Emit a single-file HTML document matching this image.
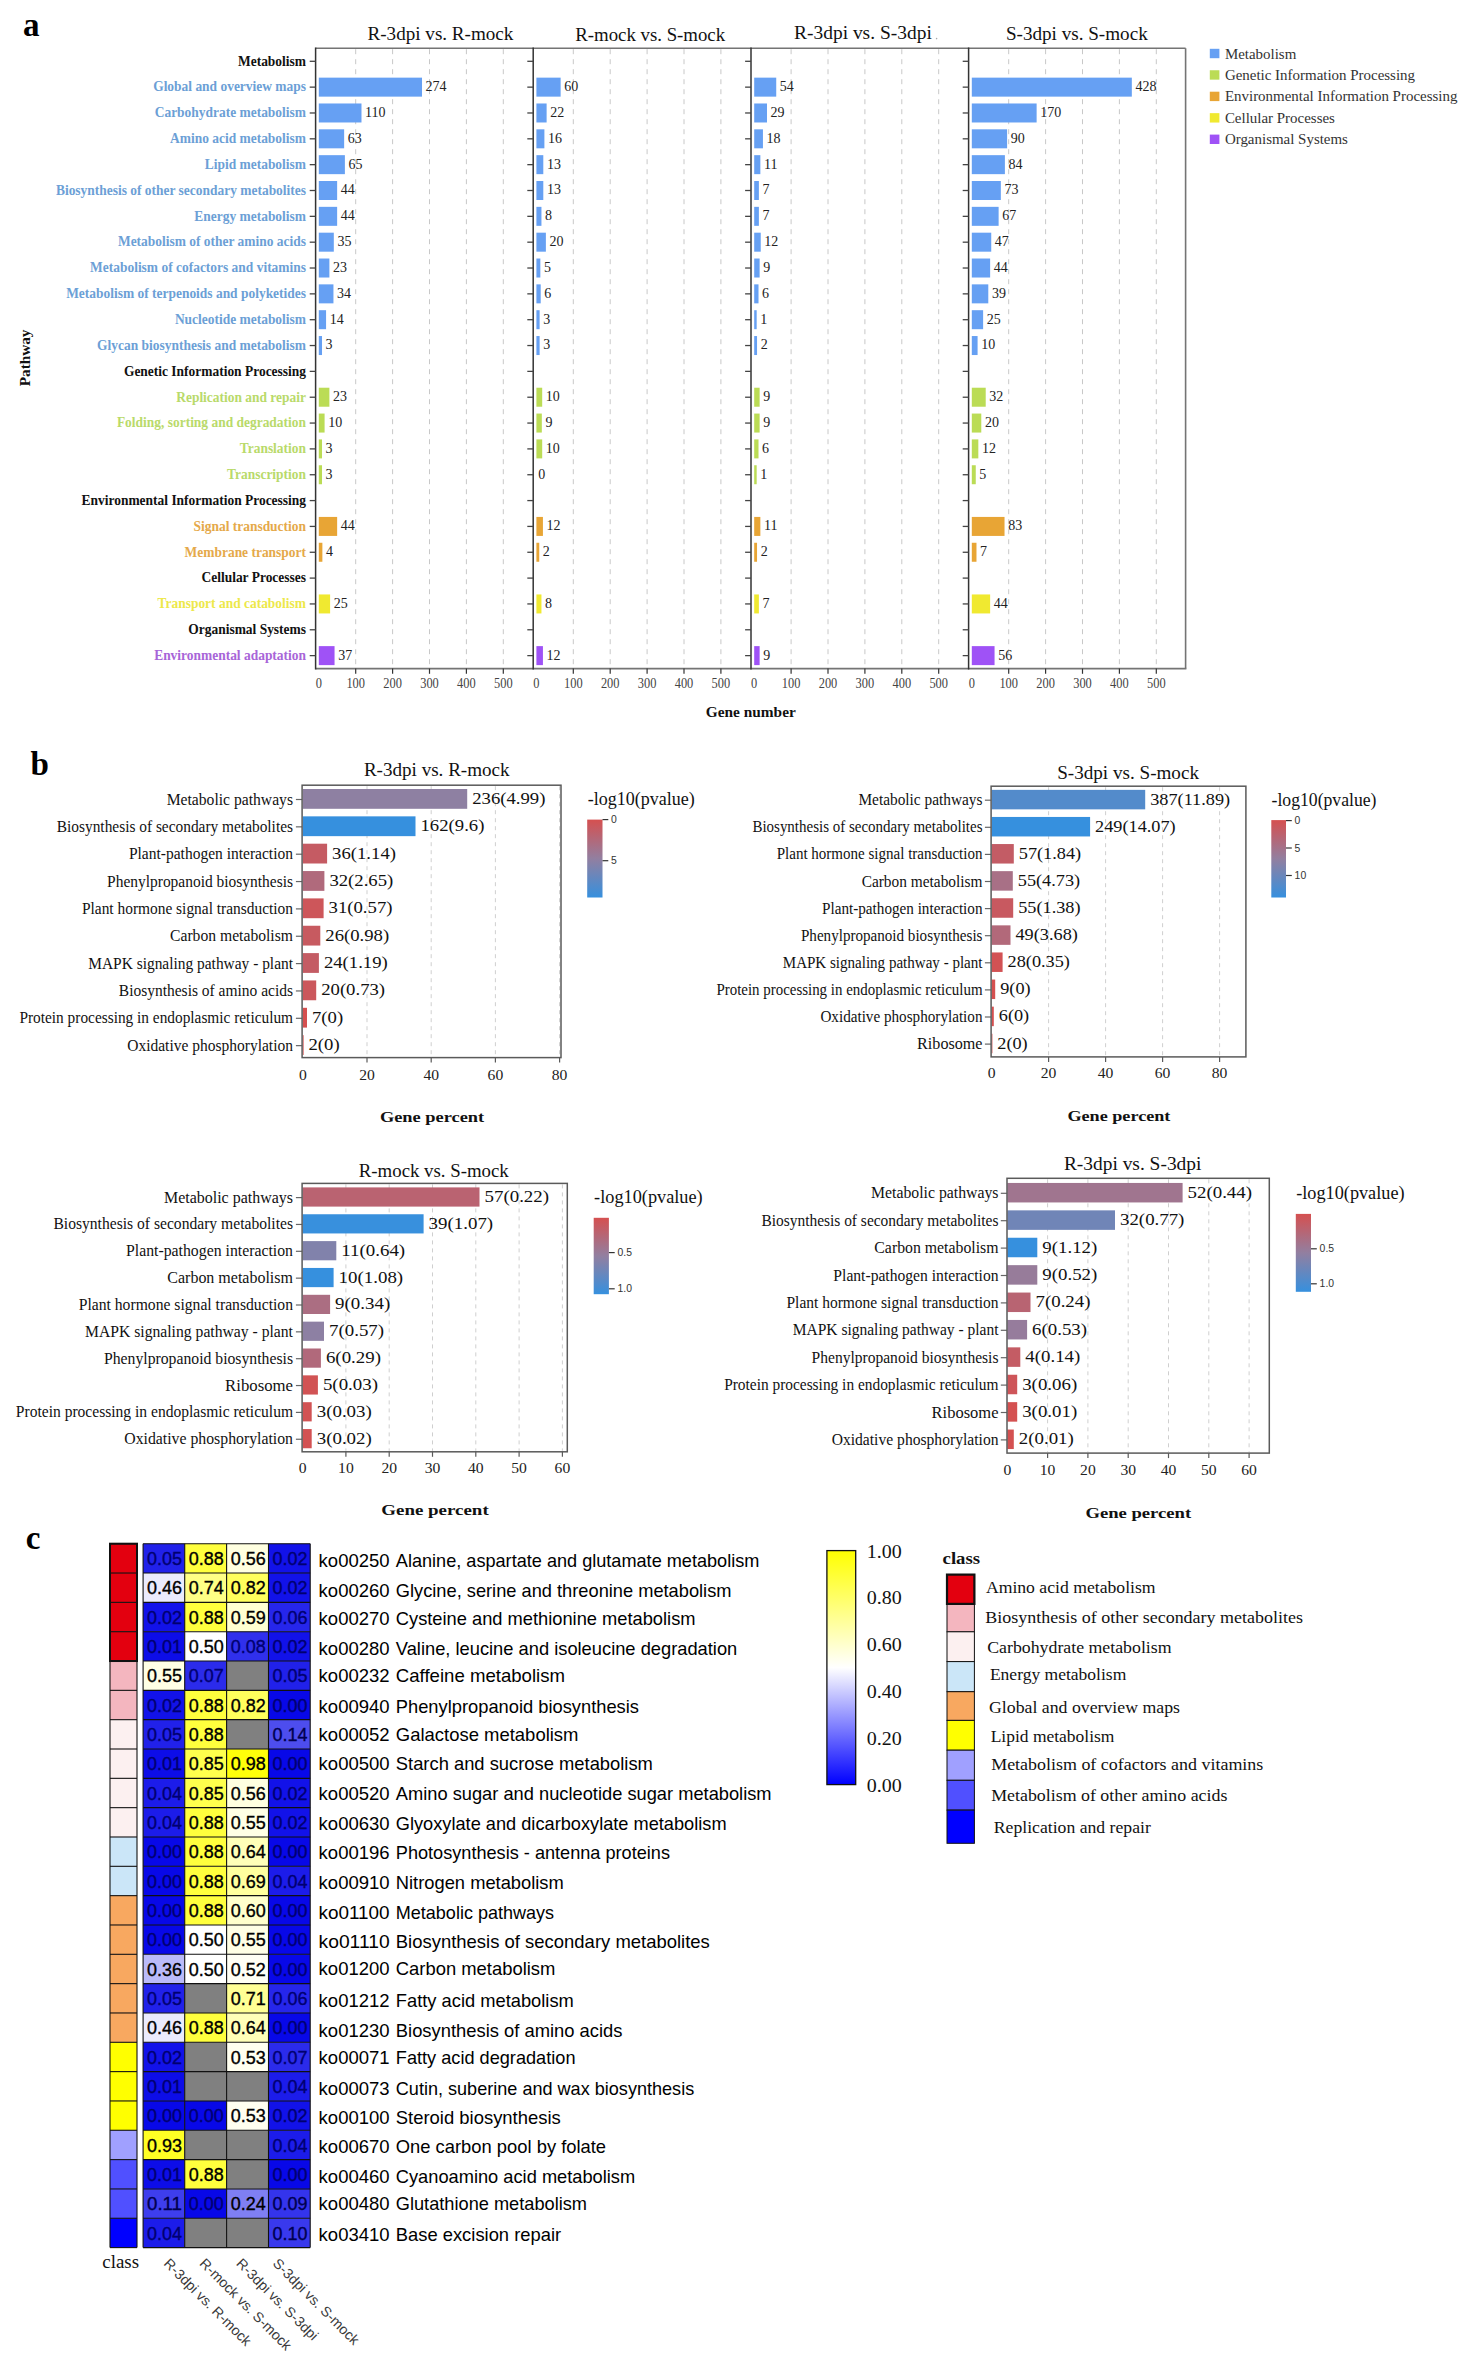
<!DOCTYPE html>
<html><head><meta charset="utf-8"><title>Figure</title>
<style>html,body{margin:0;padding:0;background:#fff;}body{width:1466px;height:2361px;overflow:hidden;font-family:"Liberation Serif",serif;}svg{display:block;}</style>
</head><body>
<svg width="1466" height="2361" viewBox="0 0 1466 2361">
<defs>
<linearGradient id="gp" x1="0" y1="0" x2="0" y2="1"><stop offset="0" stop-color="#d55050"/><stop offset="0.5" stop-color="#927fa0"/><stop offset="1" stop-color="#3690de"/></linearGradient>
<linearGradient id="gc" x1="0" y1="0" x2="0" y2="1"><stop offset="0" stop-color="#ffff00"/><stop offset="0.5" stop-color="#ffffff"/><stop offset="1" stop-color="#0000ff"/></linearGradient>
</defs>
<rect width="1466" height="2361" fill="#fff"/>
<text x="23.00" y="36.40" font-family="Liberation Serif" font-size="34.60" font-weight="bold" fill="#000" textLength="16.56" lengthAdjust="spacingAndGlyphs">a</text>
<line x1="355.70" y1="49.20" x2="355.70" y2="667.60" stroke="#c8c8c8" stroke-width="1" stroke-dasharray="5,5"/>
<line x1="392.60" y1="49.20" x2="392.60" y2="667.60" stroke="#c8c8c8" stroke-width="1" stroke-dasharray="5,5"/>
<line x1="429.50" y1="49.20" x2="429.50" y2="667.60" stroke="#c8c8c8" stroke-width="1" stroke-dasharray="5,5"/>
<line x1="466.40" y1="49.20" x2="466.40" y2="667.60" stroke="#c8c8c8" stroke-width="1" stroke-dasharray="5,5"/>
<line x1="503.30" y1="49.20" x2="503.30" y2="667.60" stroke="#c8c8c8" stroke-width="1" stroke-dasharray="5,5"/>
<line x1="573.30" y1="49.20" x2="573.30" y2="667.60" stroke="#c8c8c8" stroke-width="1" stroke-dasharray="5,5"/>
<line x1="610.20" y1="49.20" x2="610.20" y2="667.60" stroke="#c8c8c8" stroke-width="1" stroke-dasharray="5,5"/>
<line x1="647.10" y1="49.20" x2="647.10" y2="667.60" stroke="#c8c8c8" stroke-width="1" stroke-dasharray="5,5"/>
<line x1="684.00" y1="49.20" x2="684.00" y2="667.60" stroke="#c8c8c8" stroke-width="1" stroke-dasharray="5,5"/>
<line x1="720.90" y1="49.20" x2="720.90" y2="667.60" stroke="#c8c8c8" stroke-width="1" stroke-dasharray="5,5"/>
<line x1="791.10" y1="49.20" x2="791.10" y2="667.60" stroke="#c8c8c8" stroke-width="1" stroke-dasharray="5,5"/>
<line x1="828.00" y1="49.20" x2="828.00" y2="667.60" stroke="#c8c8c8" stroke-width="1" stroke-dasharray="5,5"/>
<line x1="864.90" y1="49.20" x2="864.90" y2="667.60" stroke="#c8c8c8" stroke-width="1" stroke-dasharray="5,5"/>
<line x1="901.80" y1="49.20" x2="901.80" y2="667.60" stroke="#c8c8c8" stroke-width="1" stroke-dasharray="5,5"/>
<line x1="938.70" y1="49.20" x2="938.70" y2="667.60" stroke="#c8c8c8" stroke-width="1" stroke-dasharray="5,5"/>
<line x1="1008.70" y1="49.20" x2="1008.70" y2="667.60" stroke="#c8c8c8" stroke-width="1" stroke-dasharray="5,5"/>
<line x1="1045.60" y1="49.20" x2="1045.60" y2="667.60" stroke="#c8c8c8" stroke-width="1" stroke-dasharray="5,5"/>
<line x1="1082.50" y1="49.20" x2="1082.50" y2="667.60" stroke="#c8c8c8" stroke-width="1" stroke-dasharray="5,5"/>
<line x1="1119.40" y1="49.20" x2="1119.40" y2="667.60" stroke="#c8c8c8" stroke-width="1" stroke-dasharray="5,5"/>
<line x1="1156.30" y1="49.20" x2="1156.30" y2="667.60" stroke="#c8c8c8" stroke-width="1" stroke-dasharray="5,5"/>
<text x="238.01" y="65.60" font-family="Liberation Serif" font-size="14.30" font-weight="bold" fill="#111" textLength="67.99" lengthAdjust="spacingAndGlyphs">Metabolism</text>
<rect x="318.80" y="77.64" width="103.21" height="19.00" fill="#66a0f3"/>
<text x="425.61" y="91.04" font-family="Liberation Serif" font-size="14.70" font-weight="normal" fill="#222" textLength="21.00" lengthAdjust="spacingAndGlyphs">274</text>
<rect x="536.40" y="77.64" width="24.24" height="19.00" fill="#66a0f3"/>
<text x="564.24" y="91.04" font-family="Liberation Serif" font-size="14.70" font-weight="normal" fill="#222" textLength="14.00" lengthAdjust="spacingAndGlyphs">60</text>
<rect x="754.20" y="77.64" width="22.03" height="19.00" fill="#66a0f3"/>
<text x="779.83" y="91.04" font-family="Liberation Serif" font-size="14.70" font-weight="normal" fill="#222" textLength="14.00" lengthAdjust="spacingAndGlyphs">54</text>
<rect x="971.80" y="77.64" width="160.03" height="19.00" fill="#66a0f3"/>
<text x="1135.43" y="91.04" font-family="Liberation Serif" font-size="14.70" font-weight="normal" fill="#222" textLength="21.00" lengthAdjust="spacingAndGlyphs">428</text>
<text x="153.18" y="91.44" font-family="Liberation Serif" font-size="14.30" font-weight="bold" fill="#6c9fd6" textLength="152.82" lengthAdjust="spacingAndGlyphs">Global and overview maps</text>
<rect x="318.80" y="103.48" width="42.69" height="19.00" fill="#66a0f3"/>
<text x="365.09" y="116.88" font-family="Liberation Serif" font-size="14.70" font-weight="normal" fill="#222" textLength="20.48" lengthAdjust="spacingAndGlyphs">110</text>
<rect x="536.40" y="103.48" width="10.22" height="19.00" fill="#66a0f3"/>
<text x="550.22" y="116.88" font-family="Liberation Serif" font-size="14.70" font-weight="normal" fill="#222" textLength="14.00" lengthAdjust="spacingAndGlyphs">22</text>
<rect x="754.20" y="103.48" width="12.80" height="19.00" fill="#66a0f3"/>
<text x="770.60" y="116.88" font-family="Liberation Serif" font-size="14.70" font-weight="normal" fill="#222" textLength="14.00" lengthAdjust="spacingAndGlyphs">29</text>
<rect x="971.80" y="103.48" width="64.83" height="19.00" fill="#66a0f3"/>
<text x="1040.23" y="116.88" font-family="Liberation Serif" font-size="14.70" font-weight="normal" fill="#222" textLength="21.00" lengthAdjust="spacingAndGlyphs">170</text>
<text x="154.70" y="117.28" font-family="Liberation Serif" font-size="14.30" font-weight="bold" fill="#6c9fd6" textLength="151.30" lengthAdjust="spacingAndGlyphs">Carbohydrate metabolism</text>
<rect x="318.80" y="129.32" width="25.35" height="19.00" fill="#66a0f3"/>
<text x="347.75" y="142.72" font-family="Liberation Serif" font-size="14.70" font-weight="normal" fill="#222" textLength="14.00" lengthAdjust="spacingAndGlyphs">63</text>
<rect x="536.40" y="129.32" width="8.00" height="19.00" fill="#66a0f3"/>
<text x="548.00" y="142.72" font-family="Liberation Serif" font-size="14.70" font-weight="normal" fill="#222" textLength="14.00" lengthAdjust="spacingAndGlyphs">16</text>
<rect x="754.20" y="129.32" width="8.74" height="19.00" fill="#66a0f3"/>
<text x="766.54" y="142.72" font-family="Liberation Serif" font-size="14.70" font-weight="normal" fill="#222" textLength="14.00" lengthAdjust="spacingAndGlyphs">18</text>
<rect x="971.80" y="129.32" width="35.31" height="19.00" fill="#66a0f3"/>
<text x="1010.71" y="142.72" font-family="Liberation Serif" font-size="14.70" font-weight="normal" fill="#222" textLength="14.00" lengthAdjust="spacingAndGlyphs">90</text>
<text x="170.01" y="143.12" font-family="Liberation Serif" font-size="14.30" font-weight="bold" fill="#6c9fd6" textLength="135.99" lengthAdjust="spacingAndGlyphs">Amino acid metabolism</text>
<rect x="318.80" y="155.16" width="26.09" height="19.00" fill="#66a0f3"/>
<text x="348.49" y="168.56" font-family="Liberation Serif" font-size="14.70" font-weight="normal" fill="#222" textLength="14.00" lengthAdjust="spacingAndGlyphs">65</text>
<rect x="536.40" y="155.16" width="6.90" height="19.00" fill="#66a0f3"/>
<text x="546.90" y="168.56" font-family="Liberation Serif" font-size="14.70" font-weight="normal" fill="#222" textLength="14.00" lengthAdjust="spacingAndGlyphs">13</text>
<rect x="754.20" y="155.16" width="6.16" height="19.00" fill="#66a0f3"/>
<text x="763.96" y="168.56" font-family="Liberation Serif" font-size="14.70" font-weight="normal" fill="#222" textLength="13.48" lengthAdjust="spacingAndGlyphs">11</text>
<rect x="971.80" y="155.16" width="33.10" height="19.00" fill="#66a0f3"/>
<text x="1008.50" y="168.56" font-family="Liberation Serif" font-size="14.70" font-weight="normal" fill="#222" textLength="14.00" lengthAdjust="spacingAndGlyphs">84</text>
<text x="204.74" y="168.96" font-family="Liberation Serif" font-size="14.30" font-weight="bold" fill="#6c9fd6" textLength="101.26" lengthAdjust="spacingAndGlyphs">Lipid metabolism</text>
<rect x="318.80" y="181.00" width="18.34" height="19.00" fill="#66a0f3"/>
<text x="340.74" y="194.40" font-family="Liberation Serif" font-size="14.70" font-weight="normal" fill="#222" textLength="14.00" lengthAdjust="spacingAndGlyphs">44</text>
<rect x="536.40" y="181.00" width="6.90" height="19.00" fill="#66a0f3"/>
<text x="546.90" y="194.40" font-family="Liberation Serif" font-size="14.70" font-weight="normal" fill="#222" textLength="14.00" lengthAdjust="spacingAndGlyphs">13</text>
<rect x="754.20" y="181.00" width="4.68" height="19.00" fill="#66a0f3"/>
<text x="762.48" y="194.40" font-family="Liberation Serif" font-size="14.70" font-weight="normal" fill="#222" textLength="7.00" lengthAdjust="spacingAndGlyphs">7</text>
<rect x="971.80" y="181.00" width="29.04" height="19.00" fill="#66a0f3"/>
<text x="1004.44" y="194.40" font-family="Liberation Serif" font-size="14.70" font-weight="normal" fill="#222" textLength="14.00" lengthAdjust="spacingAndGlyphs">73</text>
<text x="55.94" y="194.80" font-family="Liberation Serif" font-size="14.30" font-weight="bold" fill="#6c9fd6" textLength="250.06" lengthAdjust="spacingAndGlyphs">Biosynthesis of other secondary metabolites</text>
<rect x="318.80" y="206.84" width="18.34" height="19.00" fill="#66a0f3"/>
<text x="340.74" y="220.24" font-family="Liberation Serif" font-size="14.70" font-weight="normal" fill="#222" textLength="14.00" lengthAdjust="spacingAndGlyphs">44</text>
<rect x="536.40" y="206.84" width="5.05" height="19.00" fill="#66a0f3"/>
<text x="545.05" y="220.24" font-family="Liberation Serif" font-size="14.70" font-weight="normal" fill="#222" textLength="7.00" lengthAdjust="spacingAndGlyphs">8</text>
<rect x="754.20" y="206.84" width="4.68" height="19.00" fill="#66a0f3"/>
<text x="762.48" y="220.24" font-family="Liberation Serif" font-size="14.70" font-weight="normal" fill="#222" textLength="7.00" lengthAdjust="spacingAndGlyphs">7</text>
<rect x="971.80" y="206.84" width="26.82" height="19.00" fill="#66a0f3"/>
<text x="1002.22" y="220.24" font-family="Liberation Serif" font-size="14.70" font-weight="normal" fill="#222" textLength="14.00" lengthAdjust="spacingAndGlyphs">67</text>
<text x="194.30" y="220.64" font-family="Liberation Serif" font-size="14.30" font-weight="bold" fill="#6c9fd6" textLength="111.70" lengthAdjust="spacingAndGlyphs">Energy metabolism</text>
<rect x="318.80" y="232.68" width="15.01" height="19.00" fill="#66a0f3"/>
<text x="337.42" y="246.08" font-family="Liberation Serif" font-size="14.70" font-weight="normal" fill="#222" textLength="14.00" lengthAdjust="spacingAndGlyphs">35</text>
<rect x="536.40" y="232.68" width="9.48" height="19.00" fill="#66a0f3"/>
<text x="549.48" y="246.08" font-family="Liberation Serif" font-size="14.70" font-weight="normal" fill="#222" textLength="14.00" lengthAdjust="spacingAndGlyphs">20</text>
<rect x="754.20" y="232.68" width="6.53" height="19.00" fill="#66a0f3"/>
<text x="764.33" y="246.08" font-family="Liberation Serif" font-size="14.70" font-weight="normal" fill="#222" textLength="14.00" lengthAdjust="spacingAndGlyphs">12</text>
<rect x="971.80" y="232.68" width="19.44" height="19.00" fill="#66a0f3"/>
<text x="994.84" y="246.08" font-family="Liberation Serif" font-size="14.70" font-weight="normal" fill="#222" textLength="14.00" lengthAdjust="spacingAndGlyphs">47</text>
<text x="117.96" y="246.48" font-family="Liberation Serif" font-size="14.30" font-weight="bold" fill="#6c9fd6" textLength="188.04" lengthAdjust="spacingAndGlyphs">Metabolism of other amino acids</text>
<rect x="318.80" y="258.52" width="10.59" height="19.00" fill="#66a0f3"/>
<text x="332.99" y="271.92" font-family="Liberation Serif" font-size="14.70" font-weight="normal" fill="#222" textLength="14.00" lengthAdjust="spacingAndGlyphs">23</text>
<rect x="536.40" y="258.52" width="3.95" height="19.00" fill="#66a0f3"/>
<text x="543.95" y="271.92" font-family="Liberation Serif" font-size="14.70" font-weight="normal" fill="#222" textLength="7.00" lengthAdjust="spacingAndGlyphs">5</text>
<rect x="754.20" y="258.52" width="5.42" height="19.00" fill="#66a0f3"/>
<text x="763.22" y="271.92" font-family="Liberation Serif" font-size="14.70" font-weight="normal" fill="#222" textLength="7.00" lengthAdjust="spacingAndGlyphs">9</text>
<rect x="971.80" y="258.52" width="18.34" height="19.00" fill="#66a0f3"/>
<text x="993.74" y="271.92" font-family="Liberation Serif" font-size="14.70" font-weight="normal" fill="#222" textLength="14.00" lengthAdjust="spacingAndGlyphs">44</text>
<text x="90.08" y="272.32" font-family="Liberation Serif" font-size="14.30" font-weight="bold" fill="#6c9fd6" textLength="215.92" lengthAdjust="spacingAndGlyphs">Metabolism of cofactors and vitamins</text>
<rect x="318.80" y="284.36" width="14.65" height="19.00" fill="#66a0f3"/>
<text x="337.05" y="297.76" font-family="Liberation Serif" font-size="14.70" font-weight="normal" fill="#222" textLength="14.00" lengthAdjust="spacingAndGlyphs">34</text>
<rect x="536.40" y="284.36" width="4.31" height="19.00" fill="#66a0f3"/>
<text x="544.31" y="297.76" font-family="Liberation Serif" font-size="14.70" font-weight="normal" fill="#222" textLength="7.00" lengthAdjust="spacingAndGlyphs">6</text>
<rect x="754.20" y="284.36" width="4.31" height="19.00" fill="#66a0f3"/>
<text x="762.11" y="297.76" font-family="Liberation Serif" font-size="14.70" font-weight="normal" fill="#222" textLength="7.00" lengthAdjust="spacingAndGlyphs">6</text>
<rect x="971.80" y="284.36" width="16.49" height="19.00" fill="#66a0f3"/>
<text x="991.89" y="297.76" font-family="Liberation Serif" font-size="14.70" font-weight="normal" fill="#222" textLength="14.00" lengthAdjust="spacingAndGlyphs">39</text>
<text x="66.14" y="298.16" font-family="Liberation Serif" font-size="14.30" font-weight="bold" fill="#6c9fd6" textLength="239.86" lengthAdjust="spacingAndGlyphs">Metabolism of terpenoids and polyketides</text>
<rect x="318.80" y="310.20" width="7.27" height="19.00" fill="#66a0f3"/>
<text x="329.67" y="323.60" font-family="Liberation Serif" font-size="14.70" font-weight="normal" fill="#222" textLength="14.00" lengthAdjust="spacingAndGlyphs">14</text>
<rect x="536.40" y="310.20" width="3.21" height="19.00" fill="#66a0f3"/>
<text x="543.21" y="323.60" font-family="Liberation Serif" font-size="14.70" font-weight="normal" fill="#222" textLength="7.00" lengthAdjust="spacingAndGlyphs">3</text>
<rect x="754.20" y="310.20" width="2.47" height="19.00" fill="#66a0f3"/>
<text x="760.27" y="323.60" font-family="Liberation Serif" font-size="14.70" font-weight="normal" fill="#222" textLength="7.00" lengthAdjust="spacingAndGlyphs">1</text>
<rect x="971.80" y="310.20" width="11.32" height="19.00" fill="#66a0f3"/>
<text x="986.73" y="323.60" font-family="Liberation Serif" font-size="14.70" font-weight="normal" fill="#222" textLength="14.00" lengthAdjust="spacingAndGlyphs">25</text>
<text x="174.88" y="324.00" font-family="Liberation Serif" font-size="14.30" font-weight="bold" fill="#6c9fd6" textLength="131.12" lengthAdjust="spacingAndGlyphs">Nucleotide metabolism</text>
<rect x="318.80" y="336.04" width="3.21" height="19.00" fill="#66a0f3"/>
<text x="325.61" y="349.44" font-family="Liberation Serif" font-size="14.70" font-weight="normal" fill="#222" textLength="7.00" lengthAdjust="spacingAndGlyphs">3</text>
<rect x="536.40" y="336.04" width="3.21" height="19.00" fill="#66a0f3"/>
<text x="543.21" y="349.44" font-family="Liberation Serif" font-size="14.70" font-weight="normal" fill="#222" textLength="7.00" lengthAdjust="spacingAndGlyphs">3</text>
<rect x="754.20" y="336.04" width="2.84" height="19.00" fill="#66a0f3"/>
<text x="760.64" y="349.44" font-family="Liberation Serif" font-size="14.70" font-weight="normal" fill="#222" textLength="7.00" lengthAdjust="spacingAndGlyphs">2</text>
<rect x="971.80" y="336.04" width="5.79" height="19.00" fill="#66a0f3"/>
<text x="981.19" y="349.44" font-family="Liberation Serif" font-size="14.70" font-weight="normal" fill="#222" textLength="14.00" lengthAdjust="spacingAndGlyphs">10</text>
<text x="97.12" y="349.84" font-family="Liberation Serif" font-size="14.30" font-weight="bold" fill="#6c9fd6" textLength="208.88" lengthAdjust="spacingAndGlyphs">Glycan biosynthesis and metabolism</text>
<text x="123.95" y="375.68" font-family="Liberation Serif" font-size="14.30" font-weight="bold" fill="#111" textLength="182.05" lengthAdjust="spacingAndGlyphs">Genetic Information Processing</text>
<rect x="318.80" y="387.72" width="10.59" height="19.00" fill="#bbdc55"/>
<text x="332.99" y="401.12" font-family="Liberation Serif" font-size="14.70" font-weight="normal" fill="#222" textLength="14.00" lengthAdjust="spacingAndGlyphs">23</text>
<rect x="536.40" y="387.72" width="5.79" height="19.00" fill="#bbdc55"/>
<text x="545.79" y="401.12" font-family="Liberation Serif" font-size="14.70" font-weight="normal" fill="#222" textLength="14.00" lengthAdjust="spacingAndGlyphs">10</text>
<rect x="754.20" y="387.72" width="5.42" height="19.00" fill="#bbdc55"/>
<text x="763.22" y="401.12" font-family="Liberation Serif" font-size="14.70" font-weight="normal" fill="#222" textLength="7.00" lengthAdjust="spacingAndGlyphs">9</text>
<rect x="971.80" y="387.72" width="13.91" height="19.00" fill="#bbdc55"/>
<text x="989.31" y="401.12" font-family="Liberation Serif" font-size="14.70" font-weight="normal" fill="#222" textLength="14.00" lengthAdjust="spacingAndGlyphs">32</text>
<text x="176.23" y="401.52" font-family="Liberation Serif" font-size="14.30" font-weight="bold" fill="#b9da6a" textLength="129.77" lengthAdjust="spacingAndGlyphs">Replication and repair</text>
<rect x="318.80" y="413.56" width="5.79" height="19.00" fill="#bbdc55"/>
<text x="328.19" y="426.96" font-family="Liberation Serif" font-size="14.70" font-weight="normal" fill="#222" textLength="14.00" lengthAdjust="spacingAndGlyphs">10</text>
<rect x="536.40" y="413.56" width="5.42" height="19.00" fill="#bbdc55"/>
<text x="545.42" y="426.96" font-family="Liberation Serif" font-size="14.70" font-weight="normal" fill="#222" textLength="7.00" lengthAdjust="spacingAndGlyphs">9</text>
<rect x="754.20" y="413.56" width="5.42" height="19.00" fill="#bbdc55"/>
<text x="763.22" y="426.96" font-family="Liberation Serif" font-size="14.70" font-weight="normal" fill="#222" textLength="7.00" lengthAdjust="spacingAndGlyphs">9</text>
<rect x="971.80" y="413.56" width="9.48" height="19.00" fill="#bbdc55"/>
<text x="984.88" y="426.96" font-family="Liberation Serif" font-size="14.70" font-weight="normal" fill="#222" textLength="14.00" lengthAdjust="spacingAndGlyphs">20</text>
<text x="116.92" y="427.36" font-family="Liberation Serif" font-size="14.30" font-weight="bold" fill="#b9da6a" textLength="189.08" lengthAdjust="spacingAndGlyphs">Folding, sorting and degradation</text>
<rect x="318.80" y="439.40" width="3.21" height="19.00" fill="#bbdc55"/>
<text x="325.61" y="452.80" font-family="Liberation Serif" font-size="14.70" font-weight="normal" fill="#222" textLength="7.00" lengthAdjust="spacingAndGlyphs">3</text>
<rect x="536.40" y="439.40" width="5.79" height="19.00" fill="#bbdc55"/>
<text x="545.79" y="452.80" font-family="Liberation Serif" font-size="14.70" font-weight="normal" fill="#222" textLength="14.00" lengthAdjust="spacingAndGlyphs">10</text>
<rect x="754.20" y="439.40" width="4.31" height="19.00" fill="#bbdc55"/>
<text x="762.11" y="452.80" font-family="Liberation Serif" font-size="14.70" font-weight="normal" fill="#222" textLength="7.00" lengthAdjust="spacingAndGlyphs">6</text>
<rect x="971.80" y="439.40" width="6.53" height="19.00" fill="#bbdc55"/>
<text x="981.93" y="452.80" font-family="Liberation Serif" font-size="14.70" font-weight="normal" fill="#222" textLength="14.00" lengthAdjust="spacingAndGlyphs">12</text>
<text x="239.74" y="453.20" font-family="Liberation Serif" font-size="14.30" font-weight="bold" fill="#b9da6a" textLength="66.26" lengthAdjust="spacingAndGlyphs">Translation</text>
<rect x="318.80" y="465.24" width="3.21" height="19.00" fill="#bbdc55"/>
<text x="325.61" y="478.64" font-family="Liberation Serif" font-size="14.70" font-weight="normal" fill="#222" textLength="7.00" lengthAdjust="spacingAndGlyphs">3</text>
<text x="538.20" y="478.64" font-family="Liberation Serif" font-size="14.70" font-weight="normal" fill="#222" textLength="7.00" lengthAdjust="spacingAndGlyphs">0</text>
<rect x="754.20" y="465.24" width="2.47" height="19.00" fill="#bbdc55"/>
<text x="760.27" y="478.64" font-family="Liberation Serif" font-size="14.70" font-weight="normal" fill="#222" textLength="7.00" lengthAdjust="spacingAndGlyphs">1</text>
<rect x="971.80" y="465.24" width="3.95" height="19.00" fill="#bbdc55"/>
<text x="979.35" y="478.64" font-family="Liberation Serif" font-size="14.70" font-weight="normal" fill="#222" textLength="7.00" lengthAdjust="spacingAndGlyphs">5</text>
<text x="227.04" y="479.04" font-family="Liberation Serif" font-size="14.30" font-weight="bold" fill="#b9da6a" textLength="78.96" lengthAdjust="spacingAndGlyphs">Transcription</text>
<text x="81.58" y="504.88" font-family="Liberation Serif" font-size="14.30" font-weight="bold" fill="#111" textLength="224.42" lengthAdjust="spacingAndGlyphs">Environmental Information Processing</text>
<rect x="318.80" y="516.92" width="18.34" height="19.00" fill="#e8a535"/>
<text x="340.74" y="530.32" font-family="Liberation Serif" font-size="14.70" font-weight="normal" fill="#222" textLength="14.00" lengthAdjust="spacingAndGlyphs">44</text>
<rect x="536.40" y="516.92" width="6.53" height="19.00" fill="#e8a535"/>
<text x="546.53" y="530.32" font-family="Liberation Serif" font-size="14.70" font-weight="normal" fill="#222" textLength="14.00" lengthAdjust="spacingAndGlyphs">12</text>
<rect x="754.20" y="516.92" width="6.16" height="19.00" fill="#e8a535"/>
<text x="763.96" y="530.32" font-family="Liberation Serif" font-size="14.70" font-weight="normal" fill="#222" textLength="13.48" lengthAdjust="spacingAndGlyphs">11</text>
<rect x="971.80" y="516.92" width="32.73" height="19.00" fill="#e8a535"/>
<text x="1008.13" y="530.32" font-family="Liberation Serif" font-size="14.70" font-weight="normal" fill="#222" textLength="14.00" lengthAdjust="spacingAndGlyphs">83</text>
<text x="193.52" y="530.72" font-family="Liberation Serif" font-size="14.30" font-weight="bold" fill="#e5a94a" textLength="112.48" lengthAdjust="spacingAndGlyphs">Signal transduction</text>
<rect x="318.80" y="542.76" width="3.58" height="19.00" fill="#e8a535"/>
<text x="325.98" y="556.16" font-family="Liberation Serif" font-size="14.70" font-weight="normal" fill="#222" textLength="7.00" lengthAdjust="spacingAndGlyphs">4</text>
<rect x="536.40" y="542.76" width="2.84" height="19.00" fill="#e8a535"/>
<text x="542.84" y="556.16" font-family="Liberation Serif" font-size="14.70" font-weight="normal" fill="#222" textLength="7.00" lengthAdjust="spacingAndGlyphs">2</text>
<rect x="754.20" y="542.76" width="2.84" height="19.00" fill="#e8a535"/>
<text x="760.64" y="556.16" font-family="Liberation Serif" font-size="14.70" font-weight="normal" fill="#222" textLength="7.00" lengthAdjust="spacingAndGlyphs">2</text>
<rect x="971.80" y="542.76" width="4.68" height="19.00" fill="#e8a535"/>
<text x="980.08" y="556.16" font-family="Liberation Serif" font-size="14.70" font-weight="normal" fill="#222" textLength="7.00" lengthAdjust="spacingAndGlyphs">7</text>
<text x="184.60" y="556.56" font-family="Liberation Serif" font-size="14.30" font-weight="bold" fill="#e5a94a" textLength="121.40" lengthAdjust="spacingAndGlyphs">Membrane transport</text>
<text x="201.53" y="582.40" font-family="Liberation Serif" font-size="14.30" font-weight="bold" fill="#111" textLength="104.47" lengthAdjust="spacingAndGlyphs">Cellular Processes</text>
<rect x="318.80" y="594.44" width="11.32" height="19.00" fill="#f0e930"/>
<text x="333.73" y="607.84" font-family="Liberation Serif" font-size="14.70" font-weight="normal" fill="#222" textLength="14.00" lengthAdjust="spacingAndGlyphs">25</text>
<rect x="536.40" y="594.44" width="5.05" height="19.00" fill="#f0e930"/>
<text x="545.05" y="607.84" font-family="Liberation Serif" font-size="14.70" font-weight="normal" fill="#222" textLength="7.00" lengthAdjust="spacingAndGlyphs">8</text>
<rect x="754.20" y="594.44" width="4.68" height="19.00" fill="#f0e930"/>
<text x="762.48" y="607.84" font-family="Liberation Serif" font-size="14.70" font-weight="normal" fill="#222" textLength="7.00" lengthAdjust="spacingAndGlyphs">7</text>
<rect x="971.80" y="594.44" width="18.34" height="19.00" fill="#f0e930"/>
<text x="993.74" y="607.84" font-family="Liberation Serif" font-size="14.70" font-weight="normal" fill="#222" textLength="14.00" lengthAdjust="spacingAndGlyphs">44</text>
<text x="157.54" y="608.24" font-family="Liberation Serif" font-size="14.30" font-weight="bold" fill="#ede84a" textLength="148.46" lengthAdjust="spacingAndGlyphs">Transport and catabolism</text>
<text x="188.31" y="634.08" font-family="Liberation Serif" font-size="14.30" font-weight="bold" fill="#111" textLength="117.69" lengthAdjust="spacingAndGlyphs">Organismal Systems</text>
<rect x="318.80" y="646.12" width="15.75" height="19.00" fill="#9f52f6"/>
<text x="338.15" y="659.52" font-family="Liberation Serif" font-size="14.70" font-weight="normal" fill="#222" textLength="14.00" lengthAdjust="spacingAndGlyphs">37</text>
<rect x="536.40" y="646.12" width="6.53" height="19.00" fill="#9f52f6"/>
<text x="546.53" y="659.52" font-family="Liberation Serif" font-size="14.70" font-weight="normal" fill="#222" textLength="14.00" lengthAdjust="spacingAndGlyphs">12</text>
<rect x="754.20" y="646.12" width="5.42" height="19.00" fill="#9f52f6"/>
<text x="763.22" y="659.52" font-family="Liberation Serif" font-size="14.70" font-weight="normal" fill="#222" textLength="7.00" lengthAdjust="spacingAndGlyphs">9</text>
<rect x="971.80" y="646.12" width="22.76" height="19.00" fill="#9f52f6"/>
<text x="998.16" y="659.52" font-family="Liberation Serif" font-size="14.70" font-weight="normal" fill="#222" textLength="14.00" lengthAdjust="spacingAndGlyphs">56</text>
<text x="154.17" y="659.92" font-family="Liberation Serif" font-size="14.30" font-weight="bold" fill="#a865d8" textLength="151.83" lengthAdjust="spacingAndGlyphs">Environmental adaptation</text>
<line x1="315.60" y1="48.20" x2="1185.60" y2="48.20" stroke="#747474" stroke-width="1.6"/>
<line x1="315.60" y1="668.60" x2="1186.40" y2="668.60" stroke="#747474" stroke-width="1.6"/>
<line x1="1185.60" y1="48.20" x2="1185.60" y2="668.60" stroke="#747474" stroke-width="1.6"/>
<line x1="315.60" y1="47.40" x2="315.60" y2="669.40" stroke="#333" stroke-width="1.5"/>
<line x1="309.70" y1="61.30" x2="315.60" y2="61.30" stroke="#444" stroke-width="1.3"/>
<line x1="309.70" y1="87.14" x2="315.60" y2="87.14" stroke="#444" stroke-width="1.3"/>
<line x1="309.70" y1="112.98" x2="315.60" y2="112.98" stroke="#444" stroke-width="1.3"/>
<line x1="309.70" y1="138.82" x2="315.60" y2="138.82" stroke="#444" stroke-width="1.3"/>
<line x1="309.70" y1="164.66" x2="315.60" y2="164.66" stroke="#444" stroke-width="1.3"/>
<line x1="309.70" y1="190.50" x2="315.60" y2="190.50" stroke="#444" stroke-width="1.3"/>
<line x1="309.70" y1="216.34" x2="315.60" y2="216.34" stroke="#444" stroke-width="1.3"/>
<line x1="309.70" y1="242.18" x2="315.60" y2="242.18" stroke="#444" stroke-width="1.3"/>
<line x1="309.70" y1="268.02" x2="315.60" y2="268.02" stroke="#444" stroke-width="1.3"/>
<line x1="309.70" y1="293.86" x2="315.60" y2="293.86" stroke="#444" stroke-width="1.3"/>
<line x1="309.70" y1="319.70" x2="315.60" y2="319.70" stroke="#444" stroke-width="1.3"/>
<line x1="309.70" y1="345.54" x2="315.60" y2="345.54" stroke="#444" stroke-width="1.3"/>
<line x1="309.70" y1="371.38" x2="315.60" y2="371.38" stroke="#444" stroke-width="1.3"/>
<line x1="309.70" y1="397.22" x2="315.60" y2="397.22" stroke="#444" stroke-width="1.3"/>
<line x1="309.70" y1="423.06" x2="315.60" y2="423.06" stroke="#444" stroke-width="1.3"/>
<line x1="309.70" y1="448.90" x2="315.60" y2="448.90" stroke="#444" stroke-width="1.3"/>
<line x1="309.70" y1="474.74" x2="315.60" y2="474.74" stroke="#444" stroke-width="1.3"/>
<line x1="309.70" y1="500.58" x2="315.60" y2="500.58" stroke="#444" stroke-width="1.3"/>
<line x1="309.70" y1="526.42" x2="315.60" y2="526.42" stroke="#444" stroke-width="1.3"/>
<line x1="309.70" y1="552.26" x2="315.60" y2="552.26" stroke="#444" stroke-width="1.3"/>
<line x1="309.70" y1="578.10" x2="315.60" y2="578.10" stroke="#444" stroke-width="1.3"/>
<line x1="309.70" y1="603.94" x2="315.60" y2="603.94" stroke="#444" stroke-width="1.3"/>
<line x1="309.70" y1="629.78" x2="315.60" y2="629.78" stroke="#444" stroke-width="1.3"/>
<line x1="309.70" y1="655.62" x2="315.60" y2="655.62" stroke="#444" stroke-width="1.3"/>
<text x="315.70" y="688.20" font-family="Liberation Serif" font-size="14.00" font-weight="normal" fill="#444" textLength="6.20" lengthAdjust="spacingAndGlyphs">0</text>
<line x1="355.70" y1="668.60" x2="355.70" y2="673.80" stroke="#333" stroke-width="1.2"/>
<text x="346.40" y="688.20" font-family="Liberation Serif" font-size="14.00" font-weight="normal" fill="#444" textLength="18.60" lengthAdjust="spacingAndGlyphs">100</text>
<line x1="392.60" y1="668.60" x2="392.60" y2="673.80" stroke="#333" stroke-width="1.2"/>
<text x="383.30" y="688.20" font-family="Liberation Serif" font-size="14.00" font-weight="normal" fill="#444" textLength="18.60" lengthAdjust="spacingAndGlyphs">200</text>
<line x1="429.50" y1="668.60" x2="429.50" y2="673.80" stroke="#333" stroke-width="1.2"/>
<text x="420.20" y="688.20" font-family="Liberation Serif" font-size="14.00" font-weight="normal" fill="#444" textLength="18.60" lengthAdjust="spacingAndGlyphs">300</text>
<line x1="466.40" y1="668.60" x2="466.40" y2="673.80" stroke="#333" stroke-width="1.2"/>
<text x="457.10" y="688.20" font-family="Liberation Serif" font-size="14.00" font-weight="normal" fill="#444" textLength="18.60" lengthAdjust="spacingAndGlyphs">400</text>
<line x1="503.30" y1="668.60" x2="503.30" y2="673.80" stroke="#333" stroke-width="1.2"/>
<text x="494.00" y="688.20" font-family="Liberation Serif" font-size="14.00" font-weight="normal" fill="#444" textLength="18.60" lengthAdjust="spacingAndGlyphs">500</text>
<line x1="533.20" y1="47.40" x2="533.20" y2="669.40" stroke="#333" stroke-width="1.5"/>
<line x1="527.30" y1="61.30" x2="533.20" y2="61.30" stroke="#444" stroke-width="1.3"/>
<line x1="527.30" y1="87.14" x2="533.20" y2="87.14" stroke="#444" stroke-width="1.3"/>
<line x1="527.30" y1="112.98" x2="533.20" y2="112.98" stroke="#444" stroke-width="1.3"/>
<line x1="527.30" y1="138.82" x2="533.20" y2="138.82" stroke="#444" stroke-width="1.3"/>
<line x1="527.30" y1="164.66" x2="533.20" y2="164.66" stroke="#444" stroke-width="1.3"/>
<line x1="527.30" y1="190.50" x2="533.20" y2="190.50" stroke="#444" stroke-width="1.3"/>
<line x1="527.30" y1="216.34" x2="533.20" y2="216.34" stroke="#444" stroke-width="1.3"/>
<line x1="527.30" y1="242.18" x2="533.20" y2="242.18" stroke="#444" stroke-width="1.3"/>
<line x1="527.30" y1="268.02" x2="533.20" y2="268.02" stroke="#444" stroke-width="1.3"/>
<line x1="527.30" y1="293.86" x2="533.20" y2="293.86" stroke="#444" stroke-width="1.3"/>
<line x1="527.30" y1="319.70" x2="533.20" y2="319.70" stroke="#444" stroke-width="1.3"/>
<line x1="527.30" y1="345.54" x2="533.20" y2="345.54" stroke="#444" stroke-width="1.3"/>
<line x1="527.30" y1="371.38" x2="533.20" y2="371.38" stroke="#444" stroke-width="1.3"/>
<line x1="527.30" y1="397.22" x2="533.20" y2="397.22" stroke="#444" stroke-width="1.3"/>
<line x1="527.30" y1="423.06" x2="533.20" y2="423.06" stroke="#444" stroke-width="1.3"/>
<line x1="527.30" y1="448.90" x2="533.20" y2="448.90" stroke="#444" stroke-width="1.3"/>
<line x1="527.30" y1="474.74" x2="533.20" y2="474.74" stroke="#444" stroke-width="1.3"/>
<line x1="527.30" y1="500.58" x2="533.20" y2="500.58" stroke="#444" stroke-width="1.3"/>
<line x1="527.30" y1="526.42" x2="533.20" y2="526.42" stroke="#444" stroke-width="1.3"/>
<line x1="527.30" y1="552.26" x2="533.20" y2="552.26" stroke="#444" stroke-width="1.3"/>
<line x1="527.30" y1="578.10" x2="533.20" y2="578.10" stroke="#444" stroke-width="1.3"/>
<line x1="527.30" y1="603.94" x2="533.20" y2="603.94" stroke="#444" stroke-width="1.3"/>
<line x1="527.30" y1="629.78" x2="533.20" y2="629.78" stroke="#444" stroke-width="1.3"/>
<line x1="527.30" y1="655.62" x2="533.20" y2="655.62" stroke="#444" stroke-width="1.3"/>
<text x="533.30" y="688.20" font-family="Liberation Serif" font-size="14.00" font-weight="normal" fill="#444" textLength="6.20" lengthAdjust="spacingAndGlyphs">0</text>
<line x1="573.30" y1="668.60" x2="573.30" y2="673.80" stroke="#333" stroke-width="1.2"/>
<text x="564.00" y="688.20" font-family="Liberation Serif" font-size="14.00" font-weight="normal" fill="#444" textLength="18.60" lengthAdjust="spacingAndGlyphs">100</text>
<line x1="610.20" y1="668.60" x2="610.20" y2="673.80" stroke="#333" stroke-width="1.2"/>
<text x="600.90" y="688.20" font-family="Liberation Serif" font-size="14.00" font-weight="normal" fill="#444" textLength="18.60" lengthAdjust="spacingAndGlyphs">200</text>
<line x1="647.10" y1="668.60" x2="647.10" y2="673.80" stroke="#333" stroke-width="1.2"/>
<text x="637.80" y="688.20" font-family="Liberation Serif" font-size="14.00" font-weight="normal" fill="#444" textLength="18.60" lengthAdjust="spacingAndGlyphs">300</text>
<line x1="684.00" y1="668.60" x2="684.00" y2="673.80" stroke="#333" stroke-width="1.2"/>
<text x="674.70" y="688.20" font-family="Liberation Serif" font-size="14.00" font-weight="normal" fill="#444" textLength="18.60" lengthAdjust="spacingAndGlyphs">400</text>
<line x1="720.90" y1="668.60" x2="720.90" y2="673.80" stroke="#333" stroke-width="1.2"/>
<text x="711.60" y="688.20" font-family="Liberation Serif" font-size="14.00" font-weight="normal" fill="#444" textLength="18.60" lengthAdjust="spacingAndGlyphs">500</text>
<line x1="751.00" y1="47.40" x2="751.00" y2="669.40" stroke="#333" stroke-width="1.5"/>
<line x1="745.10" y1="61.30" x2="751.00" y2="61.30" stroke="#444" stroke-width="1.3"/>
<line x1="745.10" y1="87.14" x2="751.00" y2="87.14" stroke="#444" stroke-width="1.3"/>
<line x1="745.10" y1="112.98" x2="751.00" y2="112.98" stroke="#444" stroke-width="1.3"/>
<line x1="745.10" y1="138.82" x2="751.00" y2="138.82" stroke="#444" stroke-width="1.3"/>
<line x1="745.10" y1="164.66" x2="751.00" y2="164.66" stroke="#444" stroke-width="1.3"/>
<line x1="745.10" y1="190.50" x2="751.00" y2="190.50" stroke="#444" stroke-width="1.3"/>
<line x1="745.10" y1="216.34" x2="751.00" y2="216.34" stroke="#444" stroke-width="1.3"/>
<line x1="745.10" y1="242.18" x2="751.00" y2="242.18" stroke="#444" stroke-width="1.3"/>
<line x1="745.10" y1="268.02" x2="751.00" y2="268.02" stroke="#444" stroke-width="1.3"/>
<line x1="745.10" y1="293.86" x2="751.00" y2="293.86" stroke="#444" stroke-width="1.3"/>
<line x1="745.10" y1="319.70" x2="751.00" y2="319.70" stroke="#444" stroke-width="1.3"/>
<line x1="745.10" y1="345.54" x2="751.00" y2="345.54" stroke="#444" stroke-width="1.3"/>
<line x1="745.10" y1="371.38" x2="751.00" y2="371.38" stroke="#444" stroke-width="1.3"/>
<line x1="745.10" y1="397.22" x2="751.00" y2="397.22" stroke="#444" stroke-width="1.3"/>
<line x1="745.10" y1="423.06" x2="751.00" y2="423.06" stroke="#444" stroke-width="1.3"/>
<line x1="745.10" y1="448.90" x2="751.00" y2="448.90" stroke="#444" stroke-width="1.3"/>
<line x1="745.10" y1="474.74" x2="751.00" y2="474.74" stroke="#444" stroke-width="1.3"/>
<line x1="745.10" y1="500.58" x2="751.00" y2="500.58" stroke="#444" stroke-width="1.3"/>
<line x1="745.10" y1="526.42" x2="751.00" y2="526.42" stroke="#444" stroke-width="1.3"/>
<line x1="745.10" y1="552.26" x2="751.00" y2="552.26" stroke="#444" stroke-width="1.3"/>
<line x1="745.10" y1="578.10" x2="751.00" y2="578.10" stroke="#444" stroke-width="1.3"/>
<line x1="745.10" y1="603.94" x2="751.00" y2="603.94" stroke="#444" stroke-width="1.3"/>
<line x1="745.10" y1="629.78" x2="751.00" y2="629.78" stroke="#444" stroke-width="1.3"/>
<line x1="745.10" y1="655.62" x2="751.00" y2="655.62" stroke="#444" stroke-width="1.3"/>
<text x="751.10" y="688.20" font-family="Liberation Serif" font-size="14.00" font-weight="normal" fill="#444" textLength="6.20" lengthAdjust="spacingAndGlyphs">0</text>
<line x1="791.10" y1="668.60" x2="791.10" y2="673.80" stroke="#333" stroke-width="1.2"/>
<text x="781.80" y="688.20" font-family="Liberation Serif" font-size="14.00" font-weight="normal" fill="#444" textLength="18.60" lengthAdjust="spacingAndGlyphs">100</text>
<line x1="828.00" y1="668.60" x2="828.00" y2="673.80" stroke="#333" stroke-width="1.2"/>
<text x="818.70" y="688.20" font-family="Liberation Serif" font-size="14.00" font-weight="normal" fill="#444" textLength="18.60" lengthAdjust="spacingAndGlyphs">200</text>
<line x1="864.90" y1="668.60" x2="864.90" y2="673.80" stroke="#333" stroke-width="1.2"/>
<text x="855.60" y="688.20" font-family="Liberation Serif" font-size="14.00" font-weight="normal" fill="#444" textLength="18.60" lengthAdjust="spacingAndGlyphs">300</text>
<line x1="901.80" y1="668.60" x2="901.80" y2="673.80" stroke="#333" stroke-width="1.2"/>
<text x="892.50" y="688.20" font-family="Liberation Serif" font-size="14.00" font-weight="normal" fill="#444" textLength="18.60" lengthAdjust="spacingAndGlyphs">400</text>
<line x1="938.70" y1="668.60" x2="938.70" y2="673.80" stroke="#333" stroke-width="1.2"/>
<text x="929.40" y="688.20" font-family="Liberation Serif" font-size="14.00" font-weight="normal" fill="#444" textLength="18.60" lengthAdjust="spacingAndGlyphs">500</text>
<line x1="968.60" y1="47.40" x2="968.60" y2="669.40" stroke="#333" stroke-width="1.5"/>
<line x1="962.70" y1="61.30" x2="968.60" y2="61.30" stroke="#444" stroke-width="1.3"/>
<line x1="962.70" y1="87.14" x2="968.60" y2="87.14" stroke="#444" stroke-width="1.3"/>
<line x1="962.70" y1="112.98" x2="968.60" y2="112.98" stroke="#444" stroke-width="1.3"/>
<line x1="962.70" y1="138.82" x2="968.60" y2="138.82" stroke="#444" stroke-width="1.3"/>
<line x1="962.70" y1="164.66" x2="968.60" y2="164.66" stroke="#444" stroke-width="1.3"/>
<line x1="962.70" y1="190.50" x2="968.60" y2="190.50" stroke="#444" stroke-width="1.3"/>
<line x1="962.70" y1="216.34" x2="968.60" y2="216.34" stroke="#444" stroke-width="1.3"/>
<line x1="962.70" y1="242.18" x2="968.60" y2="242.18" stroke="#444" stroke-width="1.3"/>
<line x1="962.70" y1="268.02" x2="968.60" y2="268.02" stroke="#444" stroke-width="1.3"/>
<line x1="962.70" y1="293.86" x2="968.60" y2="293.86" stroke="#444" stroke-width="1.3"/>
<line x1="962.70" y1="319.70" x2="968.60" y2="319.70" stroke="#444" stroke-width="1.3"/>
<line x1="962.70" y1="345.54" x2="968.60" y2="345.54" stroke="#444" stroke-width="1.3"/>
<line x1="962.70" y1="371.38" x2="968.60" y2="371.38" stroke="#444" stroke-width="1.3"/>
<line x1="962.70" y1="397.22" x2="968.60" y2="397.22" stroke="#444" stroke-width="1.3"/>
<line x1="962.70" y1="423.06" x2="968.60" y2="423.06" stroke="#444" stroke-width="1.3"/>
<line x1="962.70" y1="448.90" x2="968.60" y2="448.90" stroke="#444" stroke-width="1.3"/>
<line x1="962.70" y1="474.74" x2="968.60" y2="474.74" stroke="#444" stroke-width="1.3"/>
<line x1="962.70" y1="500.58" x2="968.60" y2="500.58" stroke="#444" stroke-width="1.3"/>
<line x1="962.70" y1="526.42" x2="968.60" y2="526.42" stroke="#444" stroke-width="1.3"/>
<line x1="962.70" y1="552.26" x2="968.60" y2="552.26" stroke="#444" stroke-width="1.3"/>
<line x1="962.70" y1="578.10" x2="968.60" y2="578.10" stroke="#444" stroke-width="1.3"/>
<line x1="962.70" y1="603.94" x2="968.60" y2="603.94" stroke="#444" stroke-width="1.3"/>
<line x1="962.70" y1="629.78" x2="968.60" y2="629.78" stroke="#444" stroke-width="1.3"/>
<line x1="962.70" y1="655.62" x2="968.60" y2="655.62" stroke="#444" stroke-width="1.3"/>
<text x="968.70" y="688.20" font-family="Liberation Serif" font-size="14.00" font-weight="normal" fill="#444" textLength="6.20" lengthAdjust="spacingAndGlyphs">0</text>
<line x1="1008.70" y1="668.60" x2="1008.70" y2="673.80" stroke="#333" stroke-width="1.2"/>
<text x="999.40" y="688.20" font-family="Liberation Serif" font-size="14.00" font-weight="normal" fill="#444" textLength="18.60" lengthAdjust="spacingAndGlyphs">100</text>
<line x1="1045.60" y1="668.60" x2="1045.60" y2="673.80" stroke="#333" stroke-width="1.2"/>
<text x="1036.30" y="688.20" font-family="Liberation Serif" font-size="14.00" font-weight="normal" fill="#444" textLength="18.60" lengthAdjust="spacingAndGlyphs">200</text>
<line x1="1082.50" y1="668.60" x2="1082.50" y2="673.80" stroke="#333" stroke-width="1.2"/>
<text x="1073.20" y="688.20" font-family="Liberation Serif" font-size="14.00" font-weight="normal" fill="#444" textLength="18.60" lengthAdjust="spacingAndGlyphs">300</text>
<line x1="1119.40" y1="668.60" x2="1119.40" y2="673.80" stroke="#333" stroke-width="1.2"/>
<text x="1110.10" y="688.20" font-family="Liberation Serif" font-size="14.00" font-weight="normal" fill="#444" textLength="18.60" lengthAdjust="spacingAndGlyphs">400</text>
<line x1="1156.30" y1="668.60" x2="1156.30" y2="673.80" stroke="#333" stroke-width="1.2"/>
<text x="1147.00" y="688.20" font-family="Liberation Serif" font-size="14.00" font-weight="normal" fill="#444" textLength="18.60" lengthAdjust="spacingAndGlyphs">500</text>
<text x="367.50" y="40.20" font-family="Liberation Serif" font-size="18.30" font-weight="normal" fill="#111" textLength="145.90" lengthAdjust="spacingAndGlyphs">R-3dpi vs. R-mock</text>
<text x="575.30" y="40.50" font-family="Liberation Serif" font-size="18.30" font-weight="normal" fill="#111" textLength="149.80" lengthAdjust="spacingAndGlyphs">R-mock vs. S-mock</text>
<text x="794.00" y="39.30" font-family="Liberation Serif" font-size="18.30" font-weight="normal" fill="#111" textLength="137.80" lengthAdjust="spacingAndGlyphs">R-3dpi vs. S-3dpi</text>
<circle cx="936.6" cy="38.6" r="0.8" fill="#aaa"/>
<text x="1005.90" y="40.00" font-family="Liberation Serif" font-size="18.30" font-weight="normal" fill="#111" textLength="141.80" lengthAdjust="spacingAndGlyphs">S-3dpi vs. S-mock</text>
<text x="705.80" y="717.00" font-family="Liberation Serif" font-size="15.00" font-weight="bold" fill="#111" textLength="90.00" lengthAdjust="spacingAndGlyphs">Gene number</text>
<g transform="translate(29.7,357.9) rotate(-90)">
<text x="-28.40" y="0.00" font-family="Liberation Serif" font-size="15.30" font-weight="bold" fill="#111" textLength="56.80" lengthAdjust="spacingAndGlyphs">Pathway</text>
</g>
<rect x="1209.80" y="48.80" width="9.60" height="9.40" fill="#66a0f3"/>
<text x="1224.90" y="58.50" font-family="Liberation Serif" font-size="14.80" font-weight="normal" fill="#333" textLength="71.42" lengthAdjust="spacingAndGlyphs">Metabolism</text>
<rect x="1209.80" y="70.25" width="9.60" height="9.40" fill="#bbdc55"/>
<text x="1224.90" y="79.95" font-family="Liberation Serif" font-size="14.80" font-weight="normal" fill="#333" textLength="190.15" lengthAdjust="spacingAndGlyphs">Genetic Information Processing</text>
<rect x="1209.80" y="91.70" width="9.60" height="9.40" fill="#e8a535"/>
<text x="1224.90" y="101.40" font-family="Liberation Serif" font-size="14.80" font-weight="normal" fill="#333" textLength="232.51" lengthAdjust="spacingAndGlyphs">Environmental Information Processing</text>
<rect x="1209.80" y="113.15" width="9.60" height="9.40" fill="#f0e930"/>
<text x="1224.90" y="122.85" font-family="Liberation Serif" font-size="14.80" font-weight="normal" fill="#333" textLength="110.03" lengthAdjust="spacingAndGlyphs">Cellular Processes</text>
<rect x="1209.80" y="134.60" width="9.60" height="9.40" fill="#9f52f6"/>
<text x="1224.90" y="144.30" font-family="Liberation Serif" font-size="14.80" font-weight="normal" fill="#333" textLength="123.06" lengthAdjust="spacingAndGlyphs">Organismal Systems</text>
<text x="30.60" y="774.80" font-family="Liberation Serif" font-size="34.60" font-weight="bold" fill="#000" textLength="18.41" lengthAdjust="spacingAndGlyphs">b</text>
<line x1="367.00" y1="786.20" x2="367.00" y2="1056.60" stroke="#cfcfcf" stroke-width="1" stroke-dasharray="4,4"/>
<line x1="431.20" y1="786.20" x2="431.20" y2="1056.60" stroke="#cfcfcf" stroke-width="1" stroke-dasharray="4,4"/>
<line x1="495.40" y1="786.20" x2="495.40" y2="1056.60" stroke="#cfcfcf" stroke-width="1" stroke-dasharray="4,4"/>
<line x1="559.60" y1="786.20" x2="559.60" y2="1056.60" stroke="#cfcfcf" stroke-width="1" stroke-dasharray="4,4"/>
<rect x="302.80" y="789.00" width="164.40" height="19.80" fill="#8e80a2"/>
<text x="472.20" y="803.90" font-family="Liberation Serif" font-size="16.60" font-weight="normal" fill="#111" textLength="73.23" lengthAdjust="spacingAndGlyphs">236(4.99)</text>
<text x="166.67" y="804.50" font-family="Liberation Serif" font-size="15.80" font-weight="normal" fill="#111" textLength="126.33" lengthAdjust="spacingAndGlyphs">Metabolic pathways</text>
<line x1="295.90" y1="799.50" x2="302.10" y2="799.50" stroke="#666" stroke-width="1.2"/>
<rect x="302.80" y="816.35" width="112.70" height="19.80" fill="#3690de"/>
<text x="420.50" y="831.25" font-family="Liberation Serif" font-size="16.60" font-weight="normal" fill="#111" textLength="63.88" lengthAdjust="spacingAndGlyphs">162(9.6)</text>
<text x="56.78" y="831.85" font-family="Liberation Serif" font-size="15.80" font-weight="normal" fill="#111" textLength="236.22" lengthAdjust="spacingAndGlyphs">Biosynthesis of secondary metabolites</text>
<line x1="295.90" y1="826.85" x2="302.10" y2="826.85" stroke="#666" stroke-width="1.2"/>
<rect x="302.80" y="843.70" width="24.30" height="19.80" fill="#c55b63"/>
<text x="332.10" y="858.60" font-family="Liberation Serif" font-size="16.60" font-weight="normal" fill="#111" textLength="63.88" lengthAdjust="spacingAndGlyphs">36(1.14)</text>
<text x="128.94" y="859.20" font-family="Liberation Serif" font-size="15.80" font-weight="normal" fill="#111" textLength="164.06" lengthAdjust="spacingAndGlyphs">Plant-pathogen interaction</text>
<line x1="295.90" y1="854.20" x2="302.10" y2="854.20" stroke="#666" stroke-width="1.2"/>
<rect x="302.80" y="871.05" width="21.60" height="19.80" fill="#b06a7c"/>
<text x="329.40" y="885.95" font-family="Liberation Serif" font-size="16.60" font-weight="normal" fill="#111" textLength="63.88" lengthAdjust="spacingAndGlyphs">32(2.65)</text>
<text x="107.08" y="886.55" font-family="Liberation Serif" font-size="15.80" font-weight="normal" fill="#111" textLength="185.92" lengthAdjust="spacingAndGlyphs">Phenylpropanoid biosynthesis</text>
<line x1="295.90" y1="881.55" x2="302.10" y2="881.55" stroke="#666" stroke-width="1.2"/>
<rect x="302.80" y="898.40" width="20.80" height="19.80" fill="#cd565a"/>
<text x="328.60" y="913.30" font-family="Liberation Serif" font-size="16.60" font-weight="normal" fill="#111" textLength="63.88" lengthAdjust="spacingAndGlyphs">31(0.57)</text>
<text x="81.94" y="913.90" font-family="Liberation Serif" font-size="15.80" font-weight="normal" fill="#111" textLength="211.06" lengthAdjust="spacingAndGlyphs">Plant hormone signal transduction</text>
<line x1="295.90" y1="908.90" x2="302.10" y2="908.90" stroke="#666" stroke-width="1.2"/>
<rect x="302.80" y="925.75" width="17.50" height="19.80" fill="#c75a60"/>
<text x="325.30" y="940.65" font-family="Liberation Serif" font-size="16.60" font-weight="normal" fill="#111" textLength="63.88" lengthAdjust="spacingAndGlyphs">26(0.98)</text>
<text x="170.01" y="941.25" font-family="Liberation Serif" font-size="15.80" font-weight="normal" fill="#111" textLength="122.99" lengthAdjust="spacingAndGlyphs">Carbon metabolism</text>
<line x1="295.90" y1="936.25" x2="302.10" y2="936.25" stroke="#666" stroke-width="1.2"/>
<rect x="302.80" y="953.10" width="16.10" height="19.80" fill="#c45c64"/>
<text x="323.90" y="968.00" font-family="Liberation Serif" font-size="16.60" font-weight="normal" fill="#111" textLength="63.88" lengthAdjust="spacingAndGlyphs">24(1.19)</text>
<text x="88.22" y="968.60" font-family="Liberation Serif" font-size="15.80" font-weight="normal" fill="#111" textLength="204.78" lengthAdjust="spacingAndGlyphs">MAPK signaling pathway - plant</text>
<line x1="295.90" y1="963.60" x2="302.10" y2="963.60" stroke="#666" stroke-width="1.2"/>
<rect x="302.80" y="980.45" width="13.40" height="19.80" fill="#cb575c"/>
<text x="321.20" y="995.35" font-family="Liberation Serif" font-size="16.60" font-weight="normal" fill="#111" textLength="63.88" lengthAdjust="spacingAndGlyphs">20(0.73)</text>
<text x="118.83" y="995.95" font-family="Liberation Serif" font-size="15.80" font-weight="normal" fill="#111" textLength="174.17" lengthAdjust="spacingAndGlyphs">Biosynthesis of amino acids</text>
<line x1="295.90" y1="990.95" x2="302.10" y2="990.95" stroke="#666" stroke-width="1.2"/>
<rect x="302.80" y="1007.80" width="4.20" height="19.80" fill="#d55050"/>
<text x="312.00" y="1022.70" font-family="Liberation Serif" font-size="16.60" font-weight="normal" fill="#111" textLength="31.15" lengthAdjust="spacingAndGlyphs">7(0)</text>
<text x="19.47" y="1023.30" font-family="Liberation Serif" font-size="15.80" font-weight="normal" fill="#111" textLength="273.53" lengthAdjust="spacingAndGlyphs">Protein processing in endoplasmic reticulum</text>
<line x1="295.90" y1="1018.30" x2="302.10" y2="1018.30" stroke="#666" stroke-width="1.2"/>
<rect x="302.80" y="1035.15" width="0.80" height="19.80" fill="#d55050"/>
<text x="308.50" y="1050.05" font-family="Liberation Serif" font-size="16.60" font-weight="normal" fill="#111" textLength="31.15" lengthAdjust="spacingAndGlyphs">2(0)</text>
<text x="127.24" y="1050.65" font-family="Liberation Serif" font-size="15.80" font-weight="normal" fill="#111" textLength="165.76" lengthAdjust="spacingAndGlyphs">Oxidative phosphorylation</text>
<line x1="295.90" y1="1045.65" x2="302.10" y2="1045.65" stroke="#666" stroke-width="1.2"/>
<rect x="302.10" y="785.20" width="258.90" height="272.40" fill="none" stroke="#5a5a5a" stroke-width="1.5"/>
<text x="298.90" y="1079.70" font-family="Liberation Serif" font-size="15.20" font-weight="normal" fill="#222" textLength="7.80" lengthAdjust="spacingAndGlyphs">0</text>
<line x1="367.00" y1="1057.60" x2="367.00" y2="1062.60" stroke="#5a5a5a" stroke-width="1.2"/>
<text x="359.20" y="1079.70" font-family="Liberation Serif" font-size="15.20" font-weight="normal" fill="#222" textLength="15.60" lengthAdjust="spacingAndGlyphs">20</text>
<line x1="431.20" y1="1057.60" x2="431.20" y2="1062.60" stroke="#5a5a5a" stroke-width="1.2"/>
<text x="423.40" y="1079.70" font-family="Liberation Serif" font-size="15.20" font-weight="normal" fill="#222" textLength="15.60" lengthAdjust="spacingAndGlyphs">40</text>
<line x1="495.40" y1="1057.60" x2="495.40" y2="1062.60" stroke="#5a5a5a" stroke-width="1.2"/>
<text x="487.60" y="1079.70" font-family="Liberation Serif" font-size="15.20" font-weight="normal" fill="#222" textLength="15.60" lengthAdjust="spacingAndGlyphs">60</text>
<line x1="559.60" y1="1057.60" x2="559.60" y2="1062.60" stroke="#5a5a5a" stroke-width="1.2"/>
<text x="551.80" y="1079.70" font-family="Liberation Serif" font-size="15.20" font-weight="normal" fill="#222" textLength="15.60" lengthAdjust="spacingAndGlyphs">80</text>
<text x="363.90" y="776.20" font-family="Liberation Serif" font-size="18.20" font-weight="normal" fill="#111" textLength="145.70" lengthAdjust="spacingAndGlyphs">R-3dpi vs. R-mock</text>
<text x="379.90" y="1122.00" font-family="Liberation Serif" font-size="15.60" font-weight="bold" fill="#111" textLength="104.30" lengthAdjust="spacingAndGlyphs">Gene percent</text>
<text x="587.70" y="805.00" font-family="Liberation Serif" font-size="17.80" font-weight="normal" fill="#111" textLength="107.00" lengthAdjust="spacingAndGlyphs">-log10(pvalue)</text>
<rect x="587.20" y="819.60" width="15.30" height="77.90" fill="url(#gp)"/>
<line x1="602.50" y1="819.60" x2="608.30" y2="819.60" stroke="#333" stroke-width="1.2"/>
<text x="611.10" y="823.20" font-family="Liberation Sans" font-size="10.40" font-weight="normal" fill="#333" textLength="5.78" lengthAdjust="spacingAndGlyphs">0</text>
<line x1="602.50" y1="860.70" x2="608.30" y2="860.70" stroke="#333" stroke-width="1.2"/>
<text x="611.10" y="864.30" font-family="Liberation Sans" font-size="10.40" font-weight="normal" fill="#333" textLength="5.78" lengthAdjust="spacingAndGlyphs">5</text>
<line x1="1048.60" y1="787.20" x2="1048.60" y2="1055.90" stroke="#cfcfcf" stroke-width="1" stroke-dasharray="4,4"/>
<line x1="1105.60" y1="787.20" x2="1105.60" y2="1055.90" stroke="#cfcfcf" stroke-width="1" stroke-dasharray="4,4"/>
<line x1="1162.60" y1="787.20" x2="1162.60" y2="1055.90" stroke="#cfcfcf" stroke-width="1" stroke-dasharray="4,4"/>
<line x1="1219.60" y1="787.20" x2="1219.60" y2="1055.90" stroke="#cfcfcf" stroke-width="1" stroke-dasharray="4,4"/>
<rect x="991.60" y="789.85" width="153.60" height="19.50" fill="#538bcb"/>
<text x="1150.20" y="804.60" font-family="Liberation Serif" font-size="16.60" font-weight="normal" fill="#111" textLength="79.92" lengthAdjust="spacingAndGlyphs">387(11.89)</text>
<text x="858.45" y="805.20" font-family="Liberation Serif" font-size="15.80" font-weight="normal" fill="#111" textLength="124.05" lengthAdjust="spacingAndGlyphs">Metabolic pathways</text>
<line x1="984.90" y1="800.20" x2="991.10" y2="800.20" stroke="#666" stroke-width="1.2"/>
<rect x="991.60" y="816.95" width="98.50" height="19.50" fill="#3690de"/>
<text x="1095.10" y="831.70" font-family="Liberation Serif" font-size="16.60" font-weight="normal" fill="#111" textLength="80.59" lengthAdjust="spacingAndGlyphs">249(14.07)</text>
<text x="752.42" y="832.30" font-family="Liberation Serif" font-size="15.80" font-weight="normal" fill="#111" textLength="230.08" lengthAdjust="spacingAndGlyphs">Biosynthesis of secondary metabolites</text>
<line x1="984.90" y1="827.30" x2="991.10" y2="827.30" stroke="#666" stroke-width="1.2"/>
<rect x="991.60" y="844.05" width="22.20" height="19.50" fill="#c35c65"/>
<text x="1018.80" y="858.80" font-family="Liberation Serif" font-size="16.60" font-weight="normal" fill="#111" textLength="62.34" lengthAdjust="spacingAndGlyphs">57(1.84)</text>
<text x="776.70" y="859.40" font-family="Liberation Serif" font-size="15.80" font-weight="normal" fill="#111" textLength="205.80" lengthAdjust="spacingAndGlyphs">Plant hormone signal transduction</text>
<line x1="984.90" y1="854.40" x2="991.10" y2="854.40" stroke="#666" stroke-width="1.2"/>
<rect x="991.60" y="871.15" width="21.20" height="19.50" fill="#a87086"/>
<text x="1017.80" y="885.90" font-family="Liberation Serif" font-size="16.60" font-weight="normal" fill="#111" textLength="62.34" lengthAdjust="spacingAndGlyphs">55(4.73)</text>
<text x="861.68" y="886.50" font-family="Liberation Serif" font-size="15.80" font-weight="normal" fill="#111" textLength="120.82" lengthAdjust="spacingAndGlyphs">Carbon metabolism</text>
<line x1="984.90" y1="881.50" x2="991.10" y2="881.50" stroke="#666" stroke-width="1.2"/>
<rect x="991.60" y="898.25" width="21.60" height="19.50" fill="#c85960"/>
<text x="1018.20" y="913.00" font-family="Liberation Serif" font-size="16.60" font-weight="normal" fill="#111" textLength="62.34" lengthAdjust="spacingAndGlyphs">55(1.38)</text>
<text x="822.05" y="913.60" font-family="Liberation Serif" font-size="15.80" font-weight="normal" fill="#111" textLength="160.45" lengthAdjust="spacingAndGlyphs">Plant-pathogen interaction</text>
<line x1="984.90" y1="908.60" x2="991.10" y2="908.60" stroke="#666" stroke-width="1.2"/>
<rect x="991.60" y="925.35" width="18.90" height="19.50" fill="#b2697a"/>
<text x="1015.50" y="940.10" font-family="Liberation Serif" font-size="16.60" font-weight="normal" fill="#111" textLength="62.34" lengthAdjust="spacingAndGlyphs">49(3.68)</text>
<text x="800.96" y="940.70" font-family="Liberation Serif" font-size="15.80" font-weight="normal" fill="#111" textLength="181.54" lengthAdjust="spacingAndGlyphs">Phenylpropanoid biosynthesis</text>
<line x1="984.90" y1="935.70" x2="991.10" y2="935.70" stroke="#666" stroke-width="1.2"/>
<rect x="991.60" y="952.45" width="11.00" height="19.50" fill="#d25254"/>
<text x="1007.60" y="967.20" font-family="Liberation Serif" font-size="16.60" font-weight="normal" fill="#111" textLength="62.34" lengthAdjust="spacingAndGlyphs">28(0.35)</text>
<text x="782.76" y="967.80" font-family="Liberation Serif" font-size="15.80" font-weight="normal" fill="#111" textLength="199.74" lengthAdjust="spacingAndGlyphs">MAPK signaling pathway - plant</text>
<line x1="984.90" y1="962.80" x2="991.10" y2="962.80" stroke="#666" stroke-width="1.2"/>
<rect x="991.60" y="979.55" width="3.60" height="19.50" fill="#d55050"/>
<text x="1000.20" y="994.30" font-family="Liberation Serif" font-size="16.60" font-weight="normal" fill="#111" textLength="30.40" lengthAdjust="spacingAndGlyphs">9(0)</text>
<text x="716.42" y="994.90" font-family="Liberation Serif" font-size="15.80" font-weight="normal" fill="#111" textLength="266.08" lengthAdjust="spacingAndGlyphs">Protein processing in endoplasmic reticulum</text>
<line x1="984.90" y1="989.90" x2="991.10" y2="989.90" stroke="#666" stroke-width="1.2"/>
<rect x="991.60" y="1006.65" width="2.20" height="19.50" fill="#d55050"/>
<text x="998.80" y="1021.40" font-family="Liberation Serif" font-size="16.60" font-weight="normal" fill="#111" textLength="30.40" lengthAdjust="spacingAndGlyphs">6(0)</text>
<text x="820.40" y="1022.00" font-family="Liberation Serif" font-size="15.80" font-weight="normal" fill="#111" textLength="162.10" lengthAdjust="spacingAndGlyphs">Oxidative phosphorylation</text>
<line x1="984.90" y1="1017.00" x2="991.10" y2="1017.00" stroke="#666" stroke-width="1.2"/>
<rect x="991.60" y="1033.75" width="0.80" height="19.50" fill="#d55050"/>
<text x="997.30" y="1048.50" font-family="Liberation Serif" font-size="16.60" font-weight="normal" fill="#111" textLength="30.40" lengthAdjust="spacingAndGlyphs">2(0)</text>
<text x="917.11" y="1049.10" font-family="Liberation Serif" font-size="15.80" font-weight="normal" fill="#111" textLength="65.39" lengthAdjust="spacingAndGlyphs">Ribosome</text>
<line x1="984.90" y1="1044.10" x2="991.10" y2="1044.10" stroke="#666" stroke-width="1.2"/>
<rect x="991.10" y="786.20" width="254.80" height="270.70" fill="none" stroke="#5a5a5a" stroke-width="1.5"/>
<text x="987.70" y="1078.00" font-family="Liberation Serif" font-size="15.20" font-weight="normal" fill="#222" textLength="7.80" lengthAdjust="spacingAndGlyphs">0</text>
<line x1="1048.60" y1="1056.90" x2="1048.60" y2="1061.90" stroke="#5a5a5a" stroke-width="1.2"/>
<text x="1040.80" y="1078.00" font-family="Liberation Serif" font-size="15.20" font-weight="normal" fill="#222" textLength="15.60" lengthAdjust="spacingAndGlyphs">20</text>
<line x1="1105.60" y1="1056.90" x2="1105.60" y2="1061.90" stroke="#5a5a5a" stroke-width="1.2"/>
<text x="1097.80" y="1078.00" font-family="Liberation Serif" font-size="15.20" font-weight="normal" fill="#222" textLength="15.60" lengthAdjust="spacingAndGlyphs">40</text>
<line x1="1162.60" y1="1056.90" x2="1162.60" y2="1061.90" stroke="#5a5a5a" stroke-width="1.2"/>
<text x="1154.80" y="1078.00" font-family="Liberation Serif" font-size="15.20" font-weight="normal" fill="#222" textLength="15.60" lengthAdjust="spacingAndGlyphs">60</text>
<line x1="1219.60" y1="1056.90" x2="1219.60" y2="1061.90" stroke="#5a5a5a" stroke-width="1.2"/>
<text x="1211.80" y="1078.00" font-family="Liberation Serif" font-size="15.20" font-weight="normal" fill="#222" textLength="15.60" lengthAdjust="spacingAndGlyphs">80</text>
<text x="1057.20" y="779.10" font-family="Liberation Serif" font-size="18.20" font-weight="normal" fill="#111" textLength="141.80" lengthAdjust="spacingAndGlyphs">S-3dpi vs. S-mock</text>
<text x="1067.40" y="1120.60" font-family="Liberation Serif" font-size="15.60" font-weight="bold" fill="#111" textLength="103.00" lengthAdjust="spacingAndGlyphs">Gene percent</text>
<text x="1271.50" y="805.60" font-family="Liberation Serif" font-size="17.80" font-weight="normal" fill="#111" textLength="105.00" lengthAdjust="spacingAndGlyphs">-log10(pvalue)</text>
<rect x="1271.30" y="820.10" width="14.70" height="77.40" fill="url(#gp)"/>
<line x1="1286.00" y1="820.60" x2="1291.80" y2="820.60" stroke="#333" stroke-width="1.2"/>
<text x="1294.60" y="824.20" font-family="Liberation Sans" font-size="10.40" font-weight="normal" fill="#333" textLength="5.78" lengthAdjust="spacingAndGlyphs">0</text>
<line x1="1286.00" y1="848.00" x2="1291.80" y2="848.00" stroke="#333" stroke-width="1.2"/>
<text x="1294.60" y="851.60" font-family="Liberation Sans" font-size="10.40" font-weight="normal" fill="#333" textLength="5.78" lengthAdjust="spacingAndGlyphs">5</text>
<line x1="1286.00" y1="875.50" x2="1291.80" y2="875.50" stroke="#333" stroke-width="1.2"/>
<text x="1294.60" y="879.10" font-family="Liberation Sans" font-size="10.40" font-weight="normal" fill="#333" textLength="11.57" lengthAdjust="spacingAndGlyphs">10</text>
<line x1="345.90" y1="1184.40" x2="345.90" y2="1450.80" stroke="#cfcfcf" stroke-width="1" stroke-dasharray="4,4"/>
<line x1="389.20" y1="1184.40" x2="389.20" y2="1450.80" stroke="#cfcfcf" stroke-width="1" stroke-dasharray="4,4"/>
<line x1="432.50" y1="1184.40" x2="432.50" y2="1450.80" stroke="#cfcfcf" stroke-width="1" stroke-dasharray="4,4"/>
<line x1="475.80" y1="1184.40" x2="475.80" y2="1450.80" stroke="#cfcfcf" stroke-width="1" stroke-dasharray="4,4"/>
<line x1="519.10" y1="1184.40" x2="519.10" y2="1450.80" stroke="#cfcfcf" stroke-width="1" stroke-dasharray="4,4"/>
<line x1="562.40" y1="1184.40" x2="562.40" y2="1450.80" stroke="#cfcfcf" stroke-width="1" stroke-dasharray="4,4"/>
<rect x="302.60" y="1187.40" width="176.90" height="19.20" fill="#ba6371"/>
<text x="484.50" y="1202.00" font-family="Liberation Serif" font-size="16.60" font-weight="normal" fill="#111" textLength="64.56" lengthAdjust="spacingAndGlyphs">57(0.22)</text>
<text x="163.94" y="1202.60" font-family="Liberation Serif" font-size="15.80" font-weight="normal" fill="#111" textLength="129.06" lengthAdjust="spacingAndGlyphs">Metabolic pathways</text>
<line x1="295.90" y1="1197.60" x2="302.10" y2="1197.60" stroke="#666" stroke-width="1.2"/>
<rect x="302.60" y="1214.25" width="121.00" height="19.20" fill="#3890dd"/>
<text x="428.60" y="1228.85" font-family="Liberation Serif" font-size="16.60" font-weight="normal" fill="#111" textLength="64.56" lengthAdjust="spacingAndGlyphs">39(1.07)</text>
<text x="53.40" y="1229.45" font-family="Liberation Serif" font-size="15.80" font-weight="normal" fill="#111" textLength="239.60" lengthAdjust="spacingAndGlyphs">Biosynthesis of secondary metabolites</text>
<line x1="295.90" y1="1224.45" x2="302.10" y2="1224.45" stroke="#666" stroke-width="1.2"/>
<rect x="302.60" y="1241.10" width="33.70" height="19.20" fill="#8182ab"/>
<text x="341.30" y="1255.70" font-family="Liberation Serif" font-size="16.60" font-weight="normal" fill="#111" textLength="63.86" lengthAdjust="spacingAndGlyphs">11(0.64)</text>
<text x="125.99" y="1256.30" font-family="Liberation Serif" font-size="15.80" font-weight="normal" fill="#111" textLength="167.01" lengthAdjust="spacingAndGlyphs">Plant-pathogen interaction</text>
<line x1="295.90" y1="1251.30" x2="302.10" y2="1251.30" stroke="#666" stroke-width="1.2"/>
<rect x="302.60" y="1267.95" width="31.00" height="19.20" fill="#3690de"/>
<text x="338.60" y="1282.55" font-family="Liberation Serif" font-size="16.60" font-weight="normal" fill="#111" textLength="64.56" lengthAdjust="spacingAndGlyphs">10(1.08)</text>
<text x="167.31" y="1283.15" font-family="Liberation Serif" font-size="15.80" font-weight="normal" fill="#111" textLength="125.69" lengthAdjust="spacingAndGlyphs">Carbon metabolism</text>
<line x1="295.90" y1="1278.15" x2="302.10" y2="1278.15" stroke="#666" stroke-width="1.2"/>
<rect x="302.60" y="1294.80" width="27.50" height="19.20" fill="#ab6e82"/>
<text x="335.10" y="1309.40" font-family="Liberation Serif" font-size="16.60" font-weight="normal" fill="#111" textLength="55.11" lengthAdjust="spacingAndGlyphs">9(0.34)</text>
<text x="78.71" y="1310.00" font-family="Liberation Serif" font-size="15.80" font-weight="normal" fill="#111" textLength="214.29" lengthAdjust="spacingAndGlyphs">Plant hormone signal transduction</text>
<line x1="295.90" y1="1305.00" x2="302.10" y2="1305.00" stroke="#666" stroke-width="1.2"/>
<rect x="302.60" y="1321.65" width="21.40" height="19.20" fill="#8d80a3"/>
<text x="329.00" y="1336.25" font-family="Liberation Serif" font-size="16.60" font-weight="normal" fill="#111" textLength="55.11" lengthAdjust="spacingAndGlyphs">7(0.57)</text>
<text x="85.03" y="1336.85" font-family="Liberation Serif" font-size="15.80" font-weight="normal" fill="#111" textLength="207.97" lengthAdjust="spacingAndGlyphs">MAPK signaling pathway - plant</text>
<line x1="295.90" y1="1331.85" x2="302.10" y2="1331.85" stroke="#666" stroke-width="1.2"/>
<rect x="302.60" y="1348.50" width="18.30" height="19.20" fill="#b1697b"/>
<text x="325.90" y="1363.10" font-family="Liberation Serif" font-size="16.60" font-weight="normal" fill="#111" textLength="55.11" lengthAdjust="spacingAndGlyphs">6(0.29)</text>
<text x="104.00" y="1363.70" font-family="Liberation Serif" font-size="15.80" font-weight="normal" fill="#111" textLength="189.00" lengthAdjust="spacingAndGlyphs">Phenylpropanoid biosynthesis</text>
<line x1="295.90" y1="1358.70" x2="302.10" y2="1358.70" stroke="#666" stroke-width="1.2"/>
<rect x="302.60" y="1375.35" width="15.30" height="19.20" fill="#d15354"/>
<text x="322.90" y="1389.95" font-family="Liberation Serif" font-size="16.60" font-weight="normal" fill="#111" textLength="55.11" lengthAdjust="spacingAndGlyphs">5(0.03)</text>
<text x="225.09" y="1390.55" font-family="Liberation Serif" font-size="15.80" font-weight="normal" fill="#111" textLength="67.91" lengthAdjust="spacingAndGlyphs">Ribosome</text>
<line x1="295.90" y1="1385.55" x2="302.10" y2="1385.55" stroke="#666" stroke-width="1.2"/>
<rect x="302.60" y="1402.20" width="9.10" height="19.20" fill="#d15354"/>
<text x="316.70" y="1416.80" font-family="Liberation Serif" font-size="16.60" font-weight="normal" fill="#111" textLength="55.11" lengthAdjust="spacingAndGlyphs">3(0.03)</text>
<text x="15.86" y="1417.40" font-family="Liberation Serif" font-size="15.80" font-weight="normal" fill="#111" textLength="277.14" lengthAdjust="spacingAndGlyphs">Protein processing in endoplasmic reticulum</text>
<line x1="295.90" y1="1412.40" x2="302.10" y2="1412.40" stroke="#666" stroke-width="1.2"/>
<rect x="302.60" y="1429.05" width="9.10" height="19.20" fill="#d35253"/>
<text x="316.70" y="1443.65" font-family="Liberation Serif" font-size="16.60" font-weight="normal" fill="#111" textLength="55.11" lengthAdjust="spacingAndGlyphs">3(0.02)</text>
<text x="124.27" y="1444.25" font-family="Liberation Serif" font-size="15.80" font-weight="normal" fill="#111" textLength="168.73" lengthAdjust="spacingAndGlyphs">Oxidative phosphorylation</text>
<line x1="295.90" y1="1439.25" x2="302.10" y2="1439.25" stroke="#666" stroke-width="1.2"/>
<rect x="302.10" y="1183.40" width="265.20" height="268.40" fill="none" stroke="#5a5a5a" stroke-width="1.5"/>
<text x="298.70" y="1472.90" font-family="Liberation Serif" font-size="15.20" font-weight="normal" fill="#222" textLength="7.80" lengthAdjust="spacingAndGlyphs">0</text>
<line x1="345.90" y1="1451.80" x2="345.90" y2="1456.80" stroke="#5a5a5a" stroke-width="1.2"/>
<text x="338.10" y="1472.90" font-family="Liberation Serif" font-size="15.20" font-weight="normal" fill="#222" textLength="15.60" lengthAdjust="spacingAndGlyphs">10</text>
<line x1="389.20" y1="1451.80" x2="389.20" y2="1456.80" stroke="#5a5a5a" stroke-width="1.2"/>
<text x="381.40" y="1472.90" font-family="Liberation Serif" font-size="15.20" font-weight="normal" fill="#222" textLength="15.60" lengthAdjust="spacingAndGlyphs">20</text>
<line x1="432.50" y1="1451.80" x2="432.50" y2="1456.80" stroke="#5a5a5a" stroke-width="1.2"/>
<text x="424.70" y="1472.90" font-family="Liberation Serif" font-size="15.20" font-weight="normal" fill="#222" textLength="15.60" lengthAdjust="spacingAndGlyphs">30</text>
<line x1="475.80" y1="1451.80" x2="475.80" y2="1456.80" stroke="#5a5a5a" stroke-width="1.2"/>
<text x="468.00" y="1472.90" font-family="Liberation Serif" font-size="15.20" font-weight="normal" fill="#222" textLength="15.60" lengthAdjust="spacingAndGlyphs">40</text>
<line x1="519.10" y1="1451.80" x2="519.10" y2="1456.80" stroke="#5a5a5a" stroke-width="1.2"/>
<text x="511.30" y="1472.90" font-family="Liberation Serif" font-size="15.20" font-weight="normal" fill="#222" textLength="15.60" lengthAdjust="spacingAndGlyphs">50</text>
<line x1="562.40" y1="1451.80" x2="562.40" y2="1456.80" stroke="#5a5a5a" stroke-width="1.2"/>
<text x="554.60" y="1472.90" font-family="Liberation Serif" font-size="15.20" font-weight="normal" fill="#222" textLength="15.60" lengthAdjust="spacingAndGlyphs">60</text>
<text x="358.80" y="1176.60" font-family="Liberation Serif" font-size="18.20" font-weight="normal" fill="#111" textLength="150.00" lengthAdjust="spacingAndGlyphs">R-mock vs. S-mock</text>
<text x="381.30" y="1515.30" font-family="Liberation Serif" font-size="15.60" font-weight="bold" fill="#111" textLength="107.40" lengthAdjust="spacingAndGlyphs">Gene percent</text>
<text x="594.10" y="1202.90" font-family="Liberation Serif" font-size="17.80" font-weight="normal" fill="#111" textLength="108.60" lengthAdjust="spacingAndGlyphs">-log10(pvalue)</text>
<rect x="593.70" y="1217.80" width="15.20" height="76.40" fill="url(#gp)"/>
<line x1="608.90" y1="1252.60" x2="614.70" y2="1252.60" stroke="#333" stroke-width="1.2"/>
<text x="617.50" y="1256.20" font-family="Liberation Sans" font-size="10.40" font-weight="normal" fill="#333" textLength="14.46" lengthAdjust="spacingAndGlyphs">0.5</text>
<line x1="608.90" y1="1288.80" x2="614.70" y2="1288.80" stroke="#333" stroke-width="1.2"/>
<text x="617.50" y="1292.40" font-family="Liberation Sans" font-size="10.40" font-weight="normal" fill="#333" textLength="14.46" lengthAdjust="spacingAndGlyphs">1.0</text>
<line x1="1047.60" y1="1179.30" x2="1047.60" y2="1452.10" stroke="#cfcfcf" stroke-width="1" stroke-dasharray="4,4"/>
<line x1="1087.90" y1="1179.30" x2="1087.90" y2="1452.10" stroke="#cfcfcf" stroke-width="1" stroke-dasharray="4,4"/>
<line x1="1128.20" y1="1179.30" x2="1128.20" y2="1452.10" stroke="#cfcfcf" stroke-width="1" stroke-dasharray="4,4"/>
<line x1="1168.50" y1="1179.30" x2="1168.50" y2="1452.10" stroke="#cfcfcf" stroke-width="1" stroke-dasharray="4,4"/>
<line x1="1208.80" y1="1179.30" x2="1208.80" y2="1452.10" stroke="#cfcfcf" stroke-width="1" stroke-dasharray="4,4"/>
<line x1="1249.10" y1="1179.30" x2="1249.10" y2="1452.10" stroke="#cfcfcf" stroke-width="1" stroke-dasharray="4,4"/>
<rect x="1007.30" y="1182.95" width="175.30" height="19.50" fill="#a0758f"/>
<text x="1187.60" y="1197.70" font-family="Liberation Serif" font-size="16.60" font-weight="normal" fill="#111" textLength="64.39" lengthAdjust="spacingAndGlyphs">52(0.44)</text>
<text x="870.99" y="1198.30" font-family="Liberation Serif" font-size="15.80" font-weight="normal" fill="#111" textLength="127.51" lengthAdjust="spacingAndGlyphs">Metabolic pathways</text>
<line x1="1000.80" y1="1193.30" x2="1007.00" y2="1193.30" stroke="#666" stroke-width="1.2"/>
<rect x="1007.30" y="1210.35" width="107.70" height="19.50" fill="#7085b7"/>
<text x="1120.00" y="1225.10" font-family="Liberation Serif" font-size="16.60" font-weight="normal" fill="#111" textLength="64.39" lengthAdjust="spacingAndGlyphs">32(0.77)</text>
<text x="761.39" y="1225.70" font-family="Liberation Serif" font-size="15.80" font-weight="normal" fill="#111" textLength="237.11" lengthAdjust="spacingAndGlyphs">Biosynthesis of secondary metabolites</text>
<line x1="1000.80" y1="1220.70" x2="1007.00" y2="1220.70" stroke="#666" stroke-width="1.2"/>
<rect x="1007.30" y="1237.75" width="30.00" height="19.50" fill="#3690de"/>
<text x="1042.30" y="1252.50" font-family="Liberation Serif" font-size="16.60" font-weight="normal" fill="#111" textLength="54.97" lengthAdjust="spacingAndGlyphs">9(1.12)</text>
<text x="874.33" y="1253.10" font-family="Liberation Serif" font-size="15.80" font-weight="normal" fill="#111" textLength="124.17" lengthAdjust="spacingAndGlyphs">Carbon metabolism</text>
<line x1="1000.80" y1="1248.10" x2="1007.00" y2="1248.10" stroke="#666" stroke-width="1.2"/>
<rect x="1007.30" y="1265.15" width="30.00" height="19.50" fill="#977c9a"/>
<text x="1042.30" y="1279.90" font-family="Liberation Serif" font-size="16.60" font-weight="normal" fill="#111" textLength="54.97" lengthAdjust="spacingAndGlyphs">9(0.52)</text>
<text x="833.36" y="1280.50" font-family="Liberation Serif" font-size="15.80" font-weight="normal" fill="#111" textLength="165.14" lengthAdjust="spacingAndGlyphs">Plant-pathogen interaction</text>
<line x1="1000.80" y1="1275.50" x2="1007.00" y2="1275.50" stroke="#666" stroke-width="1.2"/>
<rect x="1007.30" y="1292.55" width="23.20" height="19.50" fill="#b86472"/>
<text x="1035.50" y="1307.30" font-family="Liberation Serif" font-size="16.60" font-weight="normal" fill="#111" textLength="54.97" lengthAdjust="spacingAndGlyphs">7(0.24)</text>
<text x="786.49" y="1307.90" font-family="Liberation Serif" font-size="15.80" font-weight="normal" fill="#111" textLength="212.01" lengthAdjust="spacingAndGlyphs">Plant hormone signal transduction</text>
<line x1="1000.80" y1="1302.90" x2="1007.00" y2="1302.90" stroke="#666" stroke-width="1.2"/>
<rect x="1007.30" y="1319.95" width="19.80" height="19.50" fill="#967c9c"/>
<text x="1032.10" y="1334.70" font-family="Liberation Serif" font-size="16.60" font-weight="normal" fill="#111" textLength="54.97" lengthAdjust="spacingAndGlyphs">6(0.53)</text>
<text x="792.75" y="1335.30" font-family="Liberation Serif" font-size="15.80" font-weight="normal" fill="#111" textLength="205.75" lengthAdjust="spacingAndGlyphs">MAPK signaling pathway - plant</text>
<line x1="1000.80" y1="1330.30" x2="1007.00" y2="1330.30" stroke="#666" stroke-width="1.2"/>
<rect x="1007.30" y="1347.35" width="13.00" height="19.50" fill="#c45c64"/>
<text x="1025.30" y="1362.10" font-family="Liberation Serif" font-size="16.60" font-weight="normal" fill="#111" textLength="54.97" lengthAdjust="spacingAndGlyphs">4(0.14)</text>
<text x="811.57" y="1362.70" font-family="Liberation Serif" font-size="15.80" font-weight="normal" fill="#111" textLength="186.93" lengthAdjust="spacingAndGlyphs">Phenylpropanoid biosynthesis</text>
<line x1="1000.80" y1="1357.70" x2="1007.00" y2="1357.70" stroke="#666" stroke-width="1.2"/>
<rect x="1007.30" y="1374.75" width="9.90" height="19.50" fill="#ce5559"/>
<text x="1022.20" y="1389.50" font-family="Liberation Serif" font-size="16.60" font-weight="normal" fill="#111" textLength="54.97" lengthAdjust="spacingAndGlyphs">3(0.06)</text>
<text x="724.18" y="1390.10" font-family="Liberation Serif" font-size="15.80" font-weight="normal" fill="#111" textLength="274.32" lengthAdjust="spacingAndGlyphs">Protein processing in endoplasmic reticulum</text>
<line x1="1000.80" y1="1385.10" x2="1007.00" y2="1385.10" stroke="#666" stroke-width="1.2"/>
<rect x="1007.30" y="1402.15" width="9.90" height="19.50" fill="#d45151"/>
<text x="1022.20" y="1416.90" font-family="Liberation Serif" font-size="16.60" font-weight="normal" fill="#111" textLength="54.97" lengthAdjust="spacingAndGlyphs">3(0.01)</text>
<text x="931.62" y="1417.50" font-family="Liberation Serif" font-size="15.80" font-weight="normal" fill="#111" textLength="66.88" lengthAdjust="spacingAndGlyphs">Ribosome</text>
<line x1="1000.80" y1="1412.50" x2="1007.00" y2="1412.50" stroke="#666" stroke-width="1.2"/>
<rect x="1007.30" y="1429.55" width="6.50" height="19.50" fill="#d45151"/>
<text x="1018.80" y="1444.30" font-family="Liberation Serif" font-size="16.60" font-weight="normal" fill="#111" textLength="54.97" lengthAdjust="spacingAndGlyphs">2(0.01)</text>
<text x="831.66" y="1444.90" font-family="Liberation Serif" font-size="15.80" font-weight="normal" fill="#111" textLength="166.84" lengthAdjust="spacingAndGlyphs">Oxidative phosphorylation</text>
<line x1="1000.80" y1="1439.90" x2="1007.00" y2="1439.90" stroke="#666" stroke-width="1.2"/>
<rect x="1007.00" y="1178.30" width="262.30" height="274.80" fill="none" stroke="#5a5a5a" stroke-width="1.5"/>
<text x="1003.40" y="1475.20" font-family="Liberation Serif" font-size="15.20" font-weight="normal" fill="#222" textLength="7.80" lengthAdjust="spacingAndGlyphs">0</text>
<line x1="1047.60" y1="1453.10" x2="1047.60" y2="1458.10" stroke="#5a5a5a" stroke-width="1.2"/>
<text x="1039.80" y="1475.20" font-family="Liberation Serif" font-size="15.20" font-weight="normal" fill="#222" textLength="15.60" lengthAdjust="spacingAndGlyphs">10</text>
<line x1="1087.90" y1="1453.10" x2="1087.90" y2="1458.10" stroke="#5a5a5a" stroke-width="1.2"/>
<text x="1080.10" y="1475.20" font-family="Liberation Serif" font-size="15.20" font-weight="normal" fill="#222" textLength="15.60" lengthAdjust="spacingAndGlyphs">20</text>
<line x1="1128.20" y1="1453.10" x2="1128.20" y2="1458.10" stroke="#5a5a5a" stroke-width="1.2"/>
<text x="1120.40" y="1475.20" font-family="Liberation Serif" font-size="15.20" font-weight="normal" fill="#222" textLength="15.60" lengthAdjust="spacingAndGlyphs">30</text>
<line x1="1168.50" y1="1453.10" x2="1168.50" y2="1458.10" stroke="#5a5a5a" stroke-width="1.2"/>
<text x="1160.70" y="1475.20" font-family="Liberation Serif" font-size="15.20" font-weight="normal" fill="#222" textLength="15.60" lengthAdjust="spacingAndGlyphs">40</text>
<line x1="1208.80" y1="1453.10" x2="1208.80" y2="1458.10" stroke="#5a5a5a" stroke-width="1.2"/>
<text x="1201.00" y="1475.20" font-family="Liberation Serif" font-size="15.20" font-weight="normal" fill="#222" textLength="15.60" lengthAdjust="spacingAndGlyphs">50</text>
<line x1="1249.10" y1="1453.10" x2="1249.10" y2="1458.10" stroke="#5a5a5a" stroke-width="1.2"/>
<text x="1241.30" y="1475.20" font-family="Liberation Serif" font-size="15.20" font-weight="normal" fill="#222" textLength="15.60" lengthAdjust="spacingAndGlyphs">60</text>
<text x="1063.90" y="1169.70" font-family="Liberation Serif" font-size="18.20" font-weight="normal" fill="#111" textLength="137.50" lengthAdjust="spacingAndGlyphs">R-3dpi vs. S-3dpi</text>
<text x="1085.40" y="1517.50" font-family="Liberation Serif" font-size="15.60" font-weight="bold" fill="#111" textLength="105.80" lengthAdjust="spacingAndGlyphs">Gene percent</text>
<text x="1296.20" y="1198.50" font-family="Liberation Serif" font-size="17.80" font-weight="normal" fill="#111" textLength="108.40" lengthAdjust="spacingAndGlyphs">-log10(pvalue)</text>
<rect x="1295.80" y="1213.90" width="15.20" height="77.90" fill="url(#gp)"/>
<line x1="1311.00" y1="1248.80" x2="1316.80" y2="1248.80" stroke="#333" stroke-width="1.2"/>
<text x="1319.60" y="1252.40" font-family="Liberation Sans" font-size="10.40" font-weight="normal" fill="#333" textLength="14.46" lengthAdjust="spacingAndGlyphs">0.5</text>
<line x1="1311.00" y1="1283.80" x2="1316.80" y2="1283.80" stroke="#333" stroke-width="1.2"/>
<text x="1319.60" y="1287.40" font-family="Liberation Sans" font-size="10.40" font-weight="normal" fill="#333" textLength="14.46" lengthAdjust="spacingAndGlyphs">1.0</text>
<text x="25.80" y="1549.40" font-family="Liberation Serif" font-size="34.60" font-weight="bold" fill="#000" textLength="14.70" lengthAdjust="spacingAndGlyphs">c</text>
<rect x="143.10" y="1543.70" width="41.60" height="29.33" fill="#2121ea"/>
<rect x="184.70" y="1543.70" width="41.90" height="29.33" fill="#ffff3d"/>
<rect x="226.60" y="1543.70" width="41.90" height="29.33" fill="#ffffe0"/>
<rect x="268.50" y="1543.70" width="41.70" height="29.33" fill="#1212e9"/>
<rect x="110.00" y="1543.70" width="27.00" height="29.33" fill="#e3000f"/>
<rect x="143.10" y="1573.03" width="41.60" height="29.33" fill="#ebebfd"/>
<rect x="184.70" y="1573.03" width="41.90" height="29.33" fill="#ffff85"/>
<rect x="226.60" y="1573.03" width="41.90" height="29.33" fill="#ffff5c"/>
<rect x="268.50" y="1573.03" width="41.70" height="29.33" fill="#1212e9"/>
<rect x="110.00" y="1573.03" width="27.00" height="29.33" fill="#e3000f"/>
<rect x="143.10" y="1602.36" width="41.60" height="29.33" fill="#1212e9"/>
<rect x="184.70" y="1602.36" width="41.90" height="29.33" fill="#ffff3d"/>
<rect x="226.60" y="1602.36" width="41.90" height="29.33" fill="#ffffd1"/>
<rect x="268.50" y="1602.36" width="41.70" height="29.33" fill="#2626eb"/>
<rect x="110.00" y="1602.36" width="27.00" height="29.33" fill="#e3000f"/>
<rect x="143.10" y="1631.69" width="41.60" height="29.33" fill="#0d0de8"/>
<rect x="184.70" y="1631.69" width="41.90" height="29.33" fill="#ffffff"/>
<rect x="226.60" y="1631.69" width="41.90" height="29.33" fill="#3030ec"/>
<rect x="268.50" y="1631.69" width="41.70" height="29.33" fill="#1212e9"/>
<rect x="110.00" y="1631.69" width="27.00" height="29.33" fill="#e3000f"/>
<rect x="143.10" y="1661.02" width="41.60" height="29.33" fill="#ffffe5"/>
<rect x="184.70" y="1661.02" width="41.90" height="29.33" fill="#2b2beb"/>
<rect x="226.60" y="1661.02" width="41.90" height="29.33" fill="#808080"/>
<rect x="268.50" y="1661.02" width="41.70" height="29.33" fill="#2121ea"/>
<rect x="110.00" y="1661.02" width="27.00" height="29.33" fill="#f4b6bf"/>
<rect x="143.10" y="1690.35" width="41.60" height="29.33" fill="#1212e9"/>
<rect x="184.70" y="1690.35" width="41.90" height="29.33" fill="#ffff3d"/>
<rect x="226.60" y="1690.35" width="41.90" height="29.33" fill="#ffff5c"/>
<rect x="268.50" y="1690.35" width="41.70" height="29.33" fill="#0808e8"/>
<rect x="110.00" y="1690.35" width="27.00" height="29.33" fill="#f4b6bf"/>
<rect x="143.10" y="1719.67" width="41.60" height="29.33" fill="#2121ea"/>
<rect x="184.70" y="1719.67" width="41.90" height="29.33" fill="#ffff3d"/>
<rect x="226.60" y="1719.67" width="41.90" height="29.33" fill="#808080"/>
<rect x="268.50" y="1719.67" width="41.70" height="29.33" fill="#4d4dee"/>
<rect x="110.00" y="1719.67" width="27.00" height="29.33" fill="#fcf0f0"/>
<rect x="143.10" y="1749.00" width="41.60" height="29.33" fill="#0d0de8"/>
<rect x="184.70" y="1749.00" width="41.90" height="29.33" fill="#ffff4d"/>
<rect x="226.60" y="1749.00" width="41.90" height="29.33" fill="#ffff0a"/>
<rect x="268.50" y="1749.00" width="41.70" height="29.33" fill="#0808e8"/>
<rect x="110.00" y="1749.00" width="27.00" height="29.33" fill="#fcf0f0"/>
<rect x="143.10" y="1778.33" width="41.60" height="29.33" fill="#1c1cea"/>
<rect x="184.70" y="1778.33" width="41.90" height="29.33" fill="#ffff4d"/>
<rect x="226.60" y="1778.33" width="41.90" height="29.33" fill="#ffffe0"/>
<rect x="268.50" y="1778.33" width="41.70" height="29.33" fill="#1212e9"/>
<rect x="110.00" y="1778.33" width="27.00" height="29.33" fill="#fcf0f0"/>
<rect x="143.10" y="1807.66" width="41.60" height="29.33" fill="#1c1cea"/>
<rect x="184.70" y="1807.66" width="41.90" height="29.33" fill="#ffff3d"/>
<rect x="226.60" y="1807.66" width="41.90" height="29.33" fill="#ffffe5"/>
<rect x="268.50" y="1807.66" width="41.70" height="29.33" fill="#1212e9"/>
<rect x="110.00" y="1807.66" width="27.00" height="29.33" fill="#fcf0f0"/>
<rect x="143.10" y="1836.99" width="41.60" height="29.33" fill="#0808e8"/>
<rect x="184.70" y="1836.99" width="41.90" height="29.33" fill="#ffff3d"/>
<rect x="226.60" y="1836.99" width="41.90" height="29.33" fill="#ffffb8"/>
<rect x="268.50" y="1836.99" width="41.70" height="29.33" fill="#0808e8"/>
<rect x="110.00" y="1836.99" width="27.00" height="29.33" fill="#cbe6f8"/>
<rect x="143.10" y="1866.32" width="41.60" height="29.33" fill="#0808e8"/>
<rect x="184.70" y="1866.32" width="41.90" height="29.33" fill="#ffff3d"/>
<rect x="226.60" y="1866.32" width="41.90" height="29.33" fill="#ffff9e"/>
<rect x="268.50" y="1866.32" width="41.70" height="29.33" fill="#1c1cea"/>
<rect x="110.00" y="1866.32" width="27.00" height="29.33" fill="#cbe6f8"/>
<rect x="143.10" y="1895.65" width="41.60" height="29.33" fill="#0808e8"/>
<rect x="184.70" y="1895.65" width="41.90" height="29.33" fill="#ffff3d"/>
<rect x="226.60" y="1895.65" width="41.90" height="29.33" fill="#ffffcc"/>
<rect x="268.50" y="1895.65" width="41.70" height="29.33" fill="#0808e8"/>
<rect x="110.00" y="1895.65" width="27.00" height="29.33" fill="#f8a860"/>
<rect x="143.10" y="1924.98" width="41.60" height="29.33" fill="#0808e8"/>
<rect x="184.70" y="1924.98" width="41.90" height="29.33" fill="#ffffff"/>
<rect x="226.60" y="1924.98" width="41.90" height="29.33" fill="#ffffe5"/>
<rect x="268.50" y="1924.98" width="41.70" height="29.33" fill="#0808e8"/>
<rect x="110.00" y="1924.98" width="27.00" height="29.33" fill="#f8a860"/>
<rect x="143.10" y="1954.31" width="41.60" height="29.33" fill="#babaf9"/>
<rect x="184.70" y="1954.31" width="41.90" height="29.33" fill="#ffffff"/>
<rect x="226.60" y="1954.31" width="41.90" height="29.33" fill="#fffff5"/>
<rect x="268.50" y="1954.31" width="41.70" height="29.33" fill="#0808e8"/>
<rect x="110.00" y="1954.31" width="27.00" height="29.33" fill="#f8a860"/>
<rect x="143.10" y="1983.64" width="41.60" height="29.33" fill="#2121ea"/>
<rect x="184.70" y="1983.64" width="41.90" height="29.33" fill="#808080"/>
<rect x="226.60" y="1983.64" width="41.90" height="29.33" fill="#ffff94"/>
<rect x="268.50" y="1983.64" width="41.70" height="29.33" fill="#2626eb"/>
<rect x="110.00" y="1983.64" width="27.00" height="29.33" fill="#f8a860"/>
<rect x="143.10" y="2012.97" width="41.60" height="29.33" fill="#ebebfd"/>
<rect x="184.70" y="2012.97" width="41.90" height="29.33" fill="#ffff3d"/>
<rect x="226.60" y="2012.97" width="41.90" height="29.33" fill="#ffffb8"/>
<rect x="268.50" y="2012.97" width="41.70" height="29.33" fill="#0808e8"/>
<rect x="110.00" y="2012.97" width="27.00" height="29.33" fill="#f8a860"/>
<rect x="143.10" y="2042.30" width="41.60" height="29.33" fill="#1212e9"/>
<rect x="184.70" y="2042.30" width="41.90" height="29.33" fill="#808080"/>
<rect x="226.60" y="2042.30" width="41.90" height="29.33" fill="#fffff0"/>
<rect x="268.50" y="2042.30" width="41.70" height="29.33" fill="#2b2beb"/>
<rect x="110.00" y="2042.30" width="27.00" height="29.33" fill="#ffff00"/>
<rect x="143.10" y="2071.62" width="41.60" height="29.33" fill="#0d0de8"/>
<rect x="184.70" y="2071.62" width="41.90" height="29.33" fill="#808080"/>
<rect x="226.60" y="2071.62" width="41.90" height="29.33" fill="#808080"/>
<rect x="268.50" y="2071.62" width="41.70" height="29.33" fill="#1c1cea"/>
<rect x="110.00" y="2071.62" width="27.00" height="29.33" fill="#ffff00"/>
<rect x="143.10" y="2100.95" width="41.60" height="29.33" fill="#0808e8"/>
<rect x="184.70" y="2100.95" width="41.90" height="29.33" fill="#0808e8"/>
<rect x="226.60" y="2100.95" width="41.90" height="29.33" fill="#fffff0"/>
<rect x="268.50" y="2100.95" width="41.70" height="29.33" fill="#1212e9"/>
<rect x="110.00" y="2100.95" width="27.00" height="29.33" fill="#ffff00"/>
<rect x="143.10" y="2130.28" width="41.60" height="29.33" fill="#ffff24"/>
<rect x="184.70" y="2130.28" width="41.90" height="29.33" fill="#808080"/>
<rect x="226.60" y="2130.28" width="41.90" height="29.33" fill="#808080"/>
<rect x="268.50" y="2130.28" width="41.70" height="29.33" fill="#1c1cea"/>
<rect x="110.00" y="2130.28" width="27.00" height="29.33" fill="#a0a0ff"/>
<rect x="143.10" y="2159.61" width="41.60" height="29.33" fill="#0d0de8"/>
<rect x="184.70" y="2159.61" width="41.90" height="29.33" fill="#ffff3d"/>
<rect x="226.60" y="2159.61" width="41.90" height="29.33" fill="#808080"/>
<rect x="268.50" y="2159.61" width="41.70" height="29.33" fill="#0808e8"/>
<rect x="110.00" y="2159.61" width="27.00" height="29.33" fill="#5050ff"/>
<rect x="143.10" y="2188.94" width="41.60" height="29.33" fill="#3e3eed"/>
<rect x="184.70" y="2188.94" width="41.90" height="29.33" fill="#0808e8"/>
<rect x="226.60" y="2188.94" width="41.90" height="29.33" fill="#7f7ff3"/>
<rect x="268.50" y="2188.94" width="41.70" height="29.33" fill="#3434ec"/>
<rect x="110.00" y="2188.94" width="27.00" height="29.33" fill="#5050ff"/>
<rect x="143.10" y="2218.27" width="41.60" height="29.33" fill="#1c1cea"/>
<rect x="184.70" y="2218.27" width="41.90" height="29.33" fill="#808080"/>
<rect x="226.60" y="2218.27" width="41.90" height="29.33" fill="#808080"/>
<rect x="268.50" y="2218.27" width="41.70" height="29.33" fill="#3939ed"/>
<rect x="110.00" y="2218.27" width="27.00" height="29.33" fill="#0000ff"/>
<line x1="143.10" y1="1543.70" x2="310.20" y2="1543.70" stroke="#111" stroke-width="1.1"/>
<line x1="143.10" y1="1573.03" x2="310.20" y2="1573.03" stroke="#111" stroke-width="1.1"/>
<line x1="143.10" y1="1602.36" x2="310.20" y2="1602.36" stroke="#111" stroke-width="1.1"/>
<line x1="143.10" y1="1631.69" x2="310.20" y2="1631.69" stroke="#111" stroke-width="1.1"/>
<line x1="143.10" y1="1661.02" x2="310.20" y2="1661.02" stroke="#111" stroke-width="1.1"/>
<line x1="143.10" y1="1690.35" x2="310.20" y2="1690.35" stroke="#111" stroke-width="1.1"/>
<line x1="143.10" y1="1719.67" x2="310.20" y2="1719.67" stroke="#111" stroke-width="1.1"/>
<line x1="143.10" y1="1749.00" x2="310.20" y2="1749.00" stroke="#111" stroke-width="1.1"/>
<line x1="143.10" y1="1778.33" x2="310.20" y2="1778.33" stroke="#111" stroke-width="1.1"/>
<line x1="143.10" y1="1807.66" x2="310.20" y2="1807.66" stroke="#111" stroke-width="1.1"/>
<line x1="143.10" y1="1836.99" x2="310.20" y2="1836.99" stroke="#111" stroke-width="1.1"/>
<line x1="143.10" y1="1866.32" x2="310.20" y2="1866.32" stroke="#111" stroke-width="1.1"/>
<line x1="143.10" y1="1895.65" x2="310.20" y2="1895.65" stroke="#111" stroke-width="1.1"/>
<line x1="143.10" y1="1924.98" x2="310.20" y2="1924.98" stroke="#111" stroke-width="1.1"/>
<line x1="143.10" y1="1954.31" x2="310.20" y2="1954.31" stroke="#111" stroke-width="1.1"/>
<line x1="143.10" y1="1983.64" x2="310.20" y2="1983.64" stroke="#111" stroke-width="1.1"/>
<line x1="143.10" y1="2012.97" x2="310.20" y2="2012.97" stroke="#111" stroke-width="1.1"/>
<line x1="143.10" y1="2042.30" x2="310.20" y2="2042.30" stroke="#111" stroke-width="1.1"/>
<line x1="143.10" y1="2071.62" x2="310.20" y2="2071.62" stroke="#111" stroke-width="1.1"/>
<line x1="143.10" y1="2100.95" x2="310.20" y2="2100.95" stroke="#111" stroke-width="1.1"/>
<line x1="143.10" y1="2130.28" x2="310.20" y2="2130.28" stroke="#111" stroke-width="1.1"/>
<line x1="143.10" y1="2159.61" x2="310.20" y2="2159.61" stroke="#111" stroke-width="1.1"/>
<line x1="143.10" y1="2188.94" x2="310.20" y2="2188.94" stroke="#111" stroke-width="1.1"/>
<line x1="143.10" y1="2218.27" x2="310.20" y2="2218.27" stroke="#111" stroke-width="1.1"/>
<line x1="143.10" y1="2247.60" x2="310.20" y2="2247.60" stroke="#111" stroke-width="1.1"/>
<line x1="143.10" y1="1543.70" x2="143.10" y2="2247.60" stroke="#111" stroke-width="1.1"/>
<line x1="184.70" y1="1543.70" x2="184.70" y2="2247.60" stroke="#111" stroke-width="1.1"/>
<line x1="226.60" y1="1543.70" x2="226.60" y2="2247.60" stroke="#111" stroke-width="1.1"/>
<line x1="268.50" y1="1543.70" x2="268.50" y2="2247.60" stroke="#111" stroke-width="1.1"/>
<line x1="310.20" y1="1543.70" x2="310.20" y2="2247.60" stroke="#111" stroke-width="1.1"/>
<line x1="110.00" y1="1543.70" x2="137.00" y2="1543.70" stroke="#111" stroke-width="1.1"/>
<line x1="110.00" y1="1573.03" x2="137.00" y2="1573.03" stroke="#111" stroke-width="1.1"/>
<line x1="110.00" y1="1602.36" x2="137.00" y2="1602.36" stroke="#111" stroke-width="1.1"/>
<line x1="110.00" y1="1631.69" x2="137.00" y2="1631.69" stroke="#111" stroke-width="1.1"/>
<line x1="110.00" y1="1661.02" x2="137.00" y2="1661.02" stroke="#111" stroke-width="1.1"/>
<line x1="110.00" y1="1690.35" x2="137.00" y2="1690.35" stroke="#111" stroke-width="1.1"/>
<line x1="110.00" y1="1719.67" x2="137.00" y2="1719.67" stroke="#111" stroke-width="1.1"/>
<line x1="110.00" y1="1749.00" x2="137.00" y2="1749.00" stroke="#111" stroke-width="1.1"/>
<line x1="110.00" y1="1778.33" x2="137.00" y2="1778.33" stroke="#111" stroke-width="1.1"/>
<line x1="110.00" y1="1807.66" x2="137.00" y2="1807.66" stroke="#111" stroke-width="1.1"/>
<line x1="110.00" y1="1836.99" x2="137.00" y2="1836.99" stroke="#111" stroke-width="1.1"/>
<line x1="110.00" y1="1866.32" x2="137.00" y2="1866.32" stroke="#111" stroke-width="1.1"/>
<line x1="110.00" y1="1895.65" x2="137.00" y2="1895.65" stroke="#111" stroke-width="1.1"/>
<line x1="110.00" y1="1924.98" x2="137.00" y2="1924.98" stroke="#111" stroke-width="1.1"/>
<line x1="110.00" y1="1954.31" x2="137.00" y2="1954.31" stroke="#111" stroke-width="1.1"/>
<line x1="110.00" y1="1983.64" x2="137.00" y2="1983.64" stroke="#111" stroke-width="1.1"/>
<line x1="110.00" y1="2012.97" x2="137.00" y2="2012.97" stroke="#111" stroke-width="1.1"/>
<line x1="110.00" y1="2042.30" x2="137.00" y2="2042.30" stroke="#111" stroke-width="1.1"/>
<line x1="110.00" y1="2071.62" x2="137.00" y2="2071.62" stroke="#111" stroke-width="1.1"/>
<line x1="110.00" y1="2100.95" x2="137.00" y2="2100.95" stroke="#111" stroke-width="1.1"/>
<line x1="110.00" y1="2130.28" x2="137.00" y2="2130.28" stroke="#111" stroke-width="1.1"/>
<line x1="110.00" y1="2159.61" x2="137.00" y2="2159.61" stroke="#111" stroke-width="1.1"/>
<line x1="110.00" y1="2188.94" x2="137.00" y2="2188.94" stroke="#111" stroke-width="1.1"/>
<line x1="110.00" y1="2218.27" x2="137.00" y2="2218.27" stroke="#111" stroke-width="1.1"/>
<line x1="110.00" y1="2247.60" x2="137.00" y2="2247.60" stroke="#111" stroke-width="1.1"/>
<line x1="110.00" y1="1543.70" x2="110.00" y2="2247.60" stroke="#111" stroke-width="1.1"/>
<line x1="137.00" y1="1543.70" x2="137.00" y2="2247.60" stroke="#111" stroke-width="1.1"/>
<rect x="110.0" y="1543.70" width="27.0" height="117.32" fill="none" stroke="#111" stroke-width="2"/>
<text x="147.00" y="1564.96" font-family="Liberation Sans" font-size="18.30" font-weight="normal" fill="#000070" textLength="35.00" lengthAdjust="spacingAndGlyphs" stroke="#000070" stroke-width="0.35">0.05</text>
<text x="188.75" y="1564.96" font-family="Liberation Sans" font-size="18.30" font-weight="normal" fill="#000" textLength="35.00" lengthAdjust="spacingAndGlyphs" stroke="#000" stroke-width="0.35">0.88</text>
<text x="230.65" y="1564.96" font-family="Liberation Sans" font-size="18.30" font-weight="normal" fill="#000" textLength="35.00" lengthAdjust="spacingAndGlyphs" stroke="#000" stroke-width="0.35">0.56</text>
<text x="272.45" y="1564.96" font-family="Liberation Sans" font-size="18.30" font-weight="normal" fill="#000070" textLength="35.00" lengthAdjust="spacingAndGlyphs" stroke="#000070" stroke-width="0.35">0.02</text>
<text x="318.60" y="1567.00" font-family="Liberation Sans" font-size="18.40" font-weight="normal" fill="#000" textLength="71.00" lengthAdjust="spacingAndGlyphs">ko00250</text>
<text x="395.80" y="1567.00" font-family="Liberation Sans" font-size="18.40" font-weight="normal" fill="#000" textLength="363.60" lengthAdjust="spacingAndGlyphs">Alanine, aspartate and glutamate metabolism</text>
<text x="147.00" y="1594.29" font-family="Liberation Sans" font-size="18.30" font-weight="normal" fill="#000" textLength="35.00" lengthAdjust="spacingAndGlyphs" stroke="#000" stroke-width="0.35">0.46</text>
<text x="188.75" y="1594.29" font-family="Liberation Sans" font-size="18.30" font-weight="normal" fill="#000" textLength="35.00" lengthAdjust="spacingAndGlyphs" stroke="#000" stroke-width="0.35">0.74</text>
<text x="230.65" y="1594.29" font-family="Liberation Sans" font-size="18.30" font-weight="normal" fill="#000" textLength="35.00" lengthAdjust="spacingAndGlyphs" stroke="#000" stroke-width="0.35">0.82</text>
<text x="272.45" y="1594.29" font-family="Liberation Sans" font-size="18.30" font-weight="normal" fill="#000070" textLength="35.00" lengthAdjust="spacingAndGlyphs" stroke="#000070" stroke-width="0.35">0.02</text>
<text x="318.60" y="1596.50" font-family="Liberation Sans" font-size="18.40" font-weight="normal" fill="#000" textLength="71.00" lengthAdjust="spacingAndGlyphs">ko00260</text>
<text x="395.80" y="1596.50" font-family="Liberation Sans" font-size="18.40" font-weight="normal" fill="#000" textLength="335.70" lengthAdjust="spacingAndGlyphs">Glycine, serine and threonine metabolism</text>
<text x="147.00" y="1623.62" font-family="Liberation Sans" font-size="18.30" font-weight="normal" fill="#000070" textLength="35.00" lengthAdjust="spacingAndGlyphs" stroke="#000070" stroke-width="0.35">0.02</text>
<text x="188.75" y="1623.62" font-family="Liberation Sans" font-size="18.30" font-weight="normal" fill="#000" textLength="35.00" lengthAdjust="spacingAndGlyphs" stroke="#000" stroke-width="0.35">0.88</text>
<text x="230.65" y="1623.62" font-family="Liberation Sans" font-size="18.30" font-weight="normal" fill="#000" textLength="35.00" lengthAdjust="spacingAndGlyphs" stroke="#000" stroke-width="0.35">0.59</text>
<text x="272.45" y="1623.62" font-family="Liberation Sans" font-size="18.30" font-weight="normal" fill="#000070" textLength="35.00" lengthAdjust="spacingAndGlyphs" stroke="#000070" stroke-width="0.35">0.06</text>
<text x="318.60" y="1625.10" font-family="Liberation Sans" font-size="18.40" font-weight="normal" fill="#000" textLength="71.00" lengthAdjust="spacingAndGlyphs">ko00270</text>
<text x="395.80" y="1625.10" font-family="Liberation Sans" font-size="18.40" font-weight="normal" fill="#000" textLength="299.70" lengthAdjust="spacingAndGlyphs">Cysteine and methionine metabolism</text>
<text x="147.00" y="1652.95" font-family="Liberation Sans" font-size="18.30" font-weight="normal" fill="#000070" textLength="35.00" lengthAdjust="spacingAndGlyphs" stroke="#000070" stroke-width="0.35">0.01</text>
<text x="188.75" y="1652.95" font-family="Liberation Sans" font-size="18.30" font-weight="normal" fill="#000" textLength="35.00" lengthAdjust="spacingAndGlyphs" stroke="#000" stroke-width="0.35">0.50</text>
<text x="230.65" y="1652.95" font-family="Liberation Sans" font-size="18.30" font-weight="normal" fill="#000070" textLength="35.00" lengthAdjust="spacingAndGlyphs" stroke="#000070" stroke-width="0.35">0.08</text>
<text x="272.45" y="1652.95" font-family="Liberation Sans" font-size="18.30" font-weight="normal" fill="#000070" textLength="35.00" lengthAdjust="spacingAndGlyphs" stroke="#000070" stroke-width="0.35">0.02</text>
<text x="318.60" y="1655.40" font-family="Liberation Sans" font-size="18.40" font-weight="normal" fill="#000" textLength="71.00" lengthAdjust="spacingAndGlyphs">ko00280</text>
<text x="395.80" y="1655.40" font-family="Liberation Sans" font-size="18.40" font-weight="normal" fill="#000" textLength="341.50" lengthAdjust="spacingAndGlyphs">Valine, leucine and isoleucine degradation</text>
<text x="147.00" y="1682.28" font-family="Liberation Sans" font-size="18.30" font-weight="normal" fill="#000" textLength="35.00" lengthAdjust="spacingAndGlyphs" stroke="#000" stroke-width="0.35">0.55</text>
<text x="188.75" y="1682.28" font-family="Liberation Sans" font-size="18.30" font-weight="normal" fill="#000070" textLength="35.00" lengthAdjust="spacingAndGlyphs" stroke="#000070" stroke-width="0.35">0.07</text>
<text x="272.45" y="1682.28" font-family="Liberation Sans" font-size="18.30" font-weight="normal" fill="#000070" textLength="35.00" lengthAdjust="spacingAndGlyphs" stroke="#000070" stroke-width="0.35">0.05</text>
<text x="318.60" y="1682.10" font-family="Liberation Sans" font-size="18.40" font-weight="normal" fill="#000" textLength="71.00" lengthAdjust="spacingAndGlyphs">ko00232</text>
<text x="395.80" y="1682.10" font-family="Liberation Sans" font-size="18.40" font-weight="normal" fill="#000" textLength="169.20" lengthAdjust="spacingAndGlyphs">Caffeine metabolism</text>
<text x="147.00" y="1711.61" font-family="Liberation Sans" font-size="18.30" font-weight="normal" fill="#000070" textLength="35.00" lengthAdjust="spacingAndGlyphs" stroke="#000070" stroke-width="0.35">0.02</text>
<text x="188.75" y="1711.61" font-family="Liberation Sans" font-size="18.30" font-weight="normal" fill="#000" textLength="35.00" lengthAdjust="spacingAndGlyphs" stroke="#000" stroke-width="0.35">0.88</text>
<text x="230.65" y="1711.61" font-family="Liberation Sans" font-size="18.30" font-weight="normal" fill="#000" textLength="35.00" lengthAdjust="spacingAndGlyphs" stroke="#000" stroke-width="0.35">0.82</text>
<text x="272.45" y="1711.61" font-family="Liberation Sans" font-size="18.30" font-weight="normal" fill="#000070" textLength="35.00" lengthAdjust="spacingAndGlyphs" stroke="#000070" stroke-width="0.35">0.00</text>
<text x="318.60" y="1712.70" font-family="Liberation Sans" font-size="18.40" font-weight="normal" fill="#000" textLength="71.00" lengthAdjust="spacingAndGlyphs">ko00940</text>
<text x="395.80" y="1712.70" font-family="Liberation Sans" font-size="18.40" font-weight="normal" fill="#000" textLength="243.20" lengthAdjust="spacingAndGlyphs">Phenylpropanoid biosynthesis</text>
<text x="147.00" y="1740.94" font-family="Liberation Sans" font-size="18.30" font-weight="normal" fill="#000070" textLength="35.00" lengthAdjust="spacingAndGlyphs" stroke="#000070" stroke-width="0.35">0.05</text>
<text x="188.75" y="1740.94" font-family="Liberation Sans" font-size="18.30" font-weight="normal" fill="#000" textLength="35.00" lengthAdjust="spacingAndGlyphs" stroke="#000" stroke-width="0.35">0.88</text>
<text x="272.45" y="1740.94" font-family="Liberation Sans" font-size="18.30" font-weight="normal" fill="#000050" textLength="35.00" lengthAdjust="spacingAndGlyphs" stroke="#000050" stroke-width="0.35">0.14</text>
<text x="318.60" y="1740.60" font-family="Liberation Sans" font-size="18.40" font-weight="normal" fill="#000" textLength="71.00" lengthAdjust="spacingAndGlyphs">ko00052</text>
<text x="395.80" y="1740.60" font-family="Liberation Sans" font-size="18.40" font-weight="normal" fill="#000" textLength="182.70" lengthAdjust="spacingAndGlyphs">Galactose metabolism</text>
<text x="147.00" y="1770.27" font-family="Liberation Sans" font-size="18.30" font-weight="normal" fill="#000070" textLength="35.00" lengthAdjust="spacingAndGlyphs" stroke="#000070" stroke-width="0.35">0.01</text>
<text x="188.75" y="1770.27" font-family="Liberation Sans" font-size="18.30" font-weight="normal" fill="#000" textLength="35.00" lengthAdjust="spacingAndGlyphs" stroke="#000" stroke-width="0.35">0.85</text>
<text x="230.65" y="1770.27" font-family="Liberation Sans" font-size="18.30" font-weight="normal" fill="#000" textLength="35.00" lengthAdjust="spacingAndGlyphs" stroke="#000" stroke-width="0.35">0.98</text>
<text x="272.45" y="1770.27" font-family="Liberation Sans" font-size="18.30" font-weight="normal" fill="#000070" textLength="35.00" lengthAdjust="spacingAndGlyphs" stroke="#000070" stroke-width="0.35">0.00</text>
<text x="318.60" y="1770.00" font-family="Liberation Sans" font-size="18.40" font-weight="normal" fill="#000" textLength="71.00" lengthAdjust="spacingAndGlyphs">ko00500</text>
<text x="395.80" y="1770.00" font-family="Liberation Sans" font-size="18.40" font-weight="normal" fill="#000" textLength="257.10" lengthAdjust="spacingAndGlyphs">Starch and sucrose metabolism</text>
<text x="147.00" y="1799.60" font-family="Liberation Sans" font-size="18.30" font-weight="normal" fill="#000070" textLength="35.00" lengthAdjust="spacingAndGlyphs" stroke="#000070" stroke-width="0.35">0.04</text>
<text x="188.75" y="1799.60" font-family="Liberation Sans" font-size="18.30" font-weight="normal" fill="#000" textLength="35.00" lengthAdjust="spacingAndGlyphs" stroke="#000" stroke-width="0.35">0.85</text>
<text x="230.65" y="1799.60" font-family="Liberation Sans" font-size="18.30" font-weight="normal" fill="#000" textLength="35.00" lengthAdjust="spacingAndGlyphs" stroke="#000" stroke-width="0.35">0.56</text>
<text x="272.45" y="1799.60" font-family="Liberation Sans" font-size="18.30" font-weight="normal" fill="#000070" textLength="35.00" lengthAdjust="spacingAndGlyphs" stroke="#000070" stroke-width="0.35">0.02</text>
<text x="318.60" y="1800.30" font-family="Liberation Sans" font-size="18.40" font-weight="normal" fill="#000" textLength="71.00" lengthAdjust="spacingAndGlyphs">ko00520</text>
<text x="395.80" y="1800.30" font-family="Liberation Sans" font-size="18.40" font-weight="normal" fill="#000" textLength="375.80" lengthAdjust="spacingAndGlyphs">Amino sugar and nucleotide sugar metabolism</text>
<text x="147.00" y="1828.93" font-family="Liberation Sans" font-size="18.30" font-weight="normal" fill="#000070" textLength="35.00" lengthAdjust="spacingAndGlyphs" stroke="#000070" stroke-width="0.35">0.04</text>
<text x="188.75" y="1828.93" font-family="Liberation Sans" font-size="18.30" font-weight="normal" fill="#000" textLength="35.00" lengthAdjust="spacingAndGlyphs" stroke="#000" stroke-width="0.35">0.88</text>
<text x="230.65" y="1828.93" font-family="Liberation Sans" font-size="18.30" font-weight="normal" fill="#000" textLength="35.00" lengthAdjust="spacingAndGlyphs" stroke="#000" stroke-width="0.35">0.55</text>
<text x="272.45" y="1828.93" font-family="Liberation Sans" font-size="18.30" font-weight="normal" fill="#000070" textLength="35.00" lengthAdjust="spacingAndGlyphs" stroke="#000070" stroke-width="0.35">0.02</text>
<text x="318.60" y="1829.80" font-family="Liberation Sans" font-size="18.40" font-weight="normal" fill="#000" textLength="71.00" lengthAdjust="spacingAndGlyphs">ko00630</text>
<text x="395.80" y="1829.80" font-family="Liberation Sans" font-size="18.40" font-weight="normal" fill="#000" textLength="330.80" lengthAdjust="spacingAndGlyphs">Glyoxylate and dicarboxylate metabolism</text>
<text x="147.00" y="1858.26" font-family="Liberation Sans" font-size="18.30" font-weight="normal" fill="#000070" textLength="35.00" lengthAdjust="spacingAndGlyphs" stroke="#000070" stroke-width="0.35">0.00</text>
<text x="188.75" y="1858.26" font-family="Liberation Sans" font-size="18.30" font-weight="normal" fill="#000" textLength="35.00" lengthAdjust="spacingAndGlyphs" stroke="#000" stroke-width="0.35">0.88</text>
<text x="230.65" y="1858.26" font-family="Liberation Sans" font-size="18.30" font-weight="normal" fill="#000" textLength="35.00" lengthAdjust="spacingAndGlyphs" stroke="#000" stroke-width="0.35">0.64</text>
<text x="272.45" y="1858.26" font-family="Liberation Sans" font-size="18.30" font-weight="normal" fill="#000070" textLength="35.00" lengthAdjust="spacingAndGlyphs" stroke="#000070" stroke-width="0.35">0.00</text>
<text x="318.60" y="1859.30" font-family="Liberation Sans" font-size="18.40" font-weight="normal" fill="#000" textLength="71.00" lengthAdjust="spacingAndGlyphs">ko00196</text>
<text x="395.80" y="1859.30" font-family="Liberation Sans" font-size="18.40" font-weight="normal" fill="#000" textLength="274.20" lengthAdjust="spacingAndGlyphs">Photosynthesis - antenna proteins</text>
<text x="147.00" y="1887.59" font-family="Liberation Sans" font-size="18.30" font-weight="normal" fill="#000070" textLength="35.00" lengthAdjust="spacingAndGlyphs" stroke="#000070" stroke-width="0.35">0.00</text>
<text x="188.75" y="1887.59" font-family="Liberation Sans" font-size="18.30" font-weight="normal" fill="#000" textLength="35.00" lengthAdjust="spacingAndGlyphs" stroke="#000" stroke-width="0.35">0.88</text>
<text x="230.65" y="1887.59" font-family="Liberation Sans" font-size="18.30" font-weight="normal" fill="#000" textLength="35.00" lengthAdjust="spacingAndGlyphs" stroke="#000" stroke-width="0.35">0.69</text>
<text x="272.45" y="1887.59" font-family="Liberation Sans" font-size="18.30" font-weight="normal" fill="#000070" textLength="35.00" lengthAdjust="spacingAndGlyphs" stroke="#000070" stroke-width="0.35">0.04</text>
<text x="318.60" y="1889.40" font-family="Liberation Sans" font-size="18.40" font-weight="normal" fill="#000" textLength="71.00" lengthAdjust="spacingAndGlyphs">ko00910</text>
<text x="395.80" y="1889.40" font-family="Liberation Sans" font-size="18.40" font-weight="normal" fill="#000" textLength="168.00" lengthAdjust="spacingAndGlyphs">Nitrogen metabolism</text>
<text x="147.00" y="1916.91" font-family="Liberation Sans" font-size="18.30" font-weight="normal" fill="#000070" textLength="35.00" lengthAdjust="spacingAndGlyphs" stroke="#000070" stroke-width="0.35">0.00</text>
<text x="188.75" y="1916.91" font-family="Liberation Sans" font-size="18.30" font-weight="normal" fill="#000" textLength="35.00" lengthAdjust="spacingAndGlyphs" stroke="#000" stroke-width="0.35">0.88</text>
<text x="230.65" y="1916.91" font-family="Liberation Sans" font-size="18.30" font-weight="normal" fill="#000" textLength="35.00" lengthAdjust="spacingAndGlyphs" stroke="#000" stroke-width="0.35">0.60</text>
<text x="272.45" y="1916.91" font-family="Liberation Sans" font-size="18.30" font-weight="normal" fill="#000070" textLength="35.00" lengthAdjust="spacingAndGlyphs" stroke="#000070" stroke-width="0.35">0.00</text>
<text x="318.60" y="1918.70" font-family="Liberation Sans" font-size="18.40" font-weight="normal" fill="#000" textLength="71.00" lengthAdjust="spacingAndGlyphs">ko01100</text>
<text x="395.80" y="1918.70" font-family="Liberation Sans" font-size="18.40" font-weight="normal" fill="#000" textLength="158.20" lengthAdjust="spacingAndGlyphs">Metabolic pathways</text>
<text x="147.00" y="1946.24" font-family="Liberation Sans" font-size="18.30" font-weight="normal" fill="#000070" textLength="35.00" lengthAdjust="spacingAndGlyphs" stroke="#000070" stroke-width="0.35">0.00</text>
<text x="188.75" y="1946.24" font-family="Liberation Sans" font-size="18.30" font-weight="normal" fill="#000" textLength="35.00" lengthAdjust="spacingAndGlyphs" stroke="#000" stroke-width="0.35">0.50</text>
<text x="230.65" y="1946.24" font-family="Liberation Sans" font-size="18.30" font-weight="normal" fill="#000" textLength="35.00" lengthAdjust="spacingAndGlyphs" stroke="#000" stroke-width="0.35">0.55</text>
<text x="272.45" y="1946.24" font-family="Liberation Sans" font-size="18.30" font-weight="normal" fill="#000070" textLength="35.00" lengthAdjust="spacingAndGlyphs" stroke="#000070" stroke-width="0.35">0.00</text>
<text x="318.60" y="1947.90" font-family="Liberation Sans" font-size="18.40" font-weight="normal" fill="#000" textLength="71.00" lengthAdjust="spacingAndGlyphs">ko01110</text>
<text x="395.80" y="1947.90" font-family="Liberation Sans" font-size="18.40" font-weight="normal" fill="#000" textLength="314.00" lengthAdjust="spacingAndGlyphs">Biosynthesis of secondary metabolites</text>
<text x="147.00" y="1975.57" font-family="Liberation Sans" font-size="18.30" font-weight="normal" fill="#000" textLength="35.00" lengthAdjust="spacingAndGlyphs" stroke="#000" stroke-width="0.35">0.36</text>
<text x="188.75" y="1975.57" font-family="Liberation Sans" font-size="18.30" font-weight="normal" fill="#000" textLength="35.00" lengthAdjust="spacingAndGlyphs" stroke="#000" stroke-width="0.35">0.50</text>
<text x="230.65" y="1975.57" font-family="Liberation Sans" font-size="18.30" font-weight="normal" fill="#000" textLength="35.00" lengthAdjust="spacingAndGlyphs" stroke="#000" stroke-width="0.35">0.52</text>
<text x="272.45" y="1975.57" font-family="Liberation Sans" font-size="18.30" font-weight="normal" fill="#000070" textLength="35.00" lengthAdjust="spacingAndGlyphs" stroke="#000070" stroke-width="0.35">0.00</text>
<text x="318.60" y="1975.40" font-family="Liberation Sans" font-size="18.40" font-weight="normal" fill="#000" textLength="71.00" lengthAdjust="spacingAndGlyphs">ko01200</text>
<text x="395.80" y="1975.40" font-family="Liberation Sans" font-size="18.40" font-weight="normal" fill="#000" textLength="159.60" lengthAdjust="spacingAndGlyphs">Carbon metabolism</text>
<text x="147.00" y="2004.90" font-family="Liberation Sans" font-size="18.30" font-weight="normal" fill="#000070" textLength="35.00" lengthAdjust="spacingAndGlyphs" stroke="#000070" stroke-width="0.35">0.05</text>
<text x="230.65" y="2004.90" font-family="Liberation Sans" font-size="18.30" font-weight="normal" fill="#000" textLength="35.00" lengthAdjust="spacingAndGlyphs" stroke="#000" stroke-width="0.35">0.71</text>
<text x="272.45" y="2004.90" font-family="Liberation Sans" font-size="18.30" font-weight="normal" fill="#000070" textLength="35.00" lengthAdjust="spacingAndGlyphs" stroke="#000070" stroke-width="0.35">0.06</text>
<text x="318.60" y="2007.40" font-family="Liberation Sans" font-size="18.40" font-weight="normal" fill="#000" textLength="71.00" lengthAdjust="spacingAndGlyphs">ko01212</text>
<text x="395.80" y="2007.40" font-family="Liberation Sans" font-size="18.40" font-weight="normal" fill="#000" textLength="178.00" lengthAdjust="spacingAndGlyphs">Fatty acid metabolism</text>
<text x="147.00" y="2034.23" font-family="Liberation Sans" font-size="18.30" font-weight="normal" fill="#000" textLength="35.00" lengthAdjust="spacingAndGlyphs" stroke="#000" stroke-width="0.35">0.46</text>
<text x="188.75" y="2034.23" font-family="Liberation Sans" font-size="18.30" font-weight="normal" fill="#000" textLength="35.00" lengthAdjust="spacingAndGlyphs" stroke="#000" stroke-width="0.35">0.88</text>
<text x="230.65" y="2034.23" font-family="Liberation Sans" font-size="18.30" font-weight="normal" fill="#000" textLength="35.00" lengthAdjust="spacingAndGlyphs" stroke="#000" stroke-width="0.35">0.64</text>
<text x="272.45" y="2034.23" font-family="Liberation Sans" font-size="18.30" font-weight="normal" fill="#000070" textLength="35.00" lengthAdjust="spacingAndGlyphs" stroke="#000070" stroke-width="0.35">0.00</text>
<text x="318.60" y="2036.60" font-family="Liberation Sans" font-size="18.40" font-weight="normal" fill="#000" textLength="71.00" lengthAdjust="spacingAndGlyphs">ko01230</text>
<text x="395.80" y="2036.60" font-family="Liberation Sans" font-size="18.40" font-weight="normal" fill="#000" textLength="226.70" lengthAdjust="spacingAndGlyphs">Biosynthesis of amino acids</text>
<text x="147.00" y="2063.56" font-family="Liberation Sans" font-size="18.30" font-weight="normal" fill="#000070" textLength="35.00" lengthAdjust="spacingAndGlyphs" stroke="#000070" stroke-width="0.35">0.02</text>
<text x="230.65" y="2063.56" font-family="Liberation Sans" font-size="18.30" font-weight="normal" fill="#000" textLength="35.00" lengthAdjust="spacingAndGlyphs" stroke="#000" stroke-width="0.35">0.53</text>
<text x="272.45" y="2063.56" font-family="Liberation Sans" font-size="18.30" font-weight="normal" fill="#000070" textLength="35.00" lengthAdjust="spacingAndGlyphs" stroke="#000070" stroke-width="0.35">0.07</text>
<text x="318.60" y="2064.10" font-family="Liberation Sans" font-size="18.40" font-weight="normal" fill="#000" textLength="71.00" lengthAdjust="spacingAndGlyphs">ko00071</text>
<text x="395.80" y="2064.10" font-family="Liberation Sans" font-size="18.40" font-weight="normal" fill="#000" textLength="179.70" lengthAdjust="spacingAndGlyphs">Fatty acid degradation</text>
<text x="147.00" y="2092.89" font-family="Liberation Sans" font-size="18.30" font-weight="normal" fill="#000070" textLength="35.00" lengthAdjust="spacingAndGlyphs" stroke="#000070" stroke-width="0.35">0.01</text>
<text x="272.45" y="2092.89" font-family="Liberation Sans" font-size="18.30" font-weight="normal" fill="#000070" textLength="35.00" lengthAdjust="spacingAndGlyphs" stroke="#000070" stroke-width="0.35">0.04</text>
<text x="318.60" y="2094.60" font-family="Liberation Sans" font-size="18.40" font-weight="normal" fill="#000" textLength="71.00" lengthAdjust="spacingAndGlyphs">ko00073</text>
<text x="395.80" y="2094.60" font-family="Liberation Sans" font-size="18.40" font-weight="normal" fill="#000" textLength="298.40" lengthAdjust="spacingAndGlyphs">Cutin, suberine and wax biosynthesis</text>
<text x="147.00" y="2122.22" font-family="Liberation Sans" font-size="18.30" font-weight="normal" fill="#000070" textLength="35.00" lengthAdjust="spacingAndGlyphs" stroke="#000070" stroke-width="0.35">0.00</text>
<text x="188.75" y="2122.22" font-family="Liberation Sans" font-size="18.30" font-weight="normal" fill="#000070" textLength="35.00" lengthAdjust="spacingAndGlyphs" stroke="#000070" stroke-width="0.35">0.00</text>
<text x="230.65" y="2122.22" font-family="Liberation Sans" font-size="18.30" font-weight="normal" fill="#000" textLength="35.00" lengthAdjust="spacingAndGlyphs" stroke="#000" stroke-width="0.35">0.53</text>
<text x="272.45" y="2122.22" font-family="Liberation Sans" font-size="18.30" font-weight="normal" fill="#000070" textLength="35.00" lengthAdjust="spacingAndGlyphs" stroke="#000070" stroke-width="0.35">0.02</text>
<text x="318.60" y="2123.50" font-family="Liberation Sans" font-size="18.40" font-weight="normal" fill="#000" textLength="71.00" lengthAdjust="spacingAndGlyphs">ko00100</text>
<text x="395.80" y="2123.50" font-family="Liberation Sans" font-size="18.40" font-weight="normal" fill="#000" textLength="165.00" lengthAdjust="spacingAndGlyphs">Steroid biosynthesis</text>
<text x="147.00" y="2151.55" font-family="Liberation Sans" font-size="18.30" font-weight="normal" fill="#000" textLength="35.00" lengthAdjust="spacingAndGlyphs" stroke="#000" stroke-width="0.35">0.93</text>
<text x="272.45" y="2151.55" font-family="Liberation Sans" font-size="18.30" font-weight="normal" fill="#000070" textLength="35.00" lengthAdjust="spacingAndGlyphs" stroke="#000070" stroke-width="0.35">0.04</text>
<text x="318.60" y="2153.10" font-family="Liberation Sans" font-size="18.40" font-weight="normal" fill="#000" textLength="71.00" lengthAdjust="spacingAndGlyphs">ko00670</text>
<text x="395.80" y="2153.10" font-family="Liberation Sans" font-size="18.40" font-weight="normal" fill="#000" textLength="210.30" lengthAdjust="spacingAndGlyphs">One carbon pool by folate</text>
<text x="147.00" y="2180.88" font-family="Liberation Sans" font-size="18.30" font-weight="normal" fill="#000070" textLength="35.00" lengthAdjust="spacingAndGlyphs" stroke="#000070" stroke-width="0.35">0.01</text>
<text x="188.75" y="2180.88" font-family="Liberation Sans" font-size="18.30" font-weight="normal" fill="#000" textLength="35.00" lengthAdjust="spacingAndGlyphs" stroke="#000" stroke-width="0.35">0.88</text>
<text x="272.45" y="2180.88" font-family="Liberation Sans" font-size="18.30" font-weight="normal" fill="#000070" textLength="35.00" lengthAdjust="spacingAndGlyphs" stroke="#000070" stroke-width="0.35">0.00</text>
<text x="318.60" y="2182.70" font-family="Liberation Sans" font-size="18.40" font-weight="normal" fill="#000" textLength="71.00" lengthAdjust="spacingAndGlyphs">ko00460</text>
<text x="395.80" y="2182.70" font-family="Liberation Sans" font-size="18.40" font-weight="normal" fill="#000" textLength="239.40" lengthAdjust="spacingAndGlyphs">Cyanoamino acid metabolism</text>
<text x="147.00" y="2210.21" font-family="Liberation Sans" font-size="18.30" font-weight="normal" fill="#000050" textLength="35.00" lengthAdjust="spacingAndGlyphs" stroke="#000050" stroke-width="0.35">0.11</text>
<text x="188.75" y="2210.21" font-family="Liberation Sans" font-size="18.30" font-weight="normal" fill="#000070" textLength="35.00" lengthAdjust="spacingAndGlyphs" stroke="#000070" stroke-width="0.35">0.00</text>
<text x="230.65" y="2210.21" font-family="Liberation Sans" font-size="18.30" font-weight="normal" fill="#000" textLength="35.00" lengthAdjust="spacingAndGlyphs" stroke="#000" stroke-width="0.35">0.24</text>
<text x="272.45" y="2210.21" font-family="Liberation Sans" font-size="18.30" font-weight="normal" fill="#000050" textLength="35.00" lengthAdjust="spacingAndGlyphs" stroke="#000050" stroke-width="0.35">0.09</text>
<text x="318.60" y="2209.90" font-family="Liberation Sans" font-size="18.40" font-weight="normal" fill="#000" textLength="71.00" lengthAdjust="spacingAndGlyphs">ko00480</text>
<text x="395.80" y="2209.90" font-family="Liberation Sans" font-size="18.40" font-weight="normal" fill="#000" textLength="191.20" lengthAdjust="spacingAndGlyphs">Glutathione metabolism</text>
<text x="147.00" y="2239.54" font-family="Liberation Sans" font-size="18.30" font-weight="normal" fill="#000070" textLength="35.00" lengthAdjust="spacingAndGlyphs" stroke="#000070" stroke-width="0.35">0.04</text>
<text x="272.45" y="2239.54" font-family="Liberation Sans" font-size="18.30" font-weight="normal" fill="#000050" textLength="35.00" lengthAdjust="spacingAndGlyphs" stroke="#000050" stroke-width="0.35">0.10</text>
<text x="318.60" y="2240.90" font-family="Liberation Sans" font-size="18.40" font-weight="normal" fill="#000" textLength="71.00" lengthAdjust="spacingAndGlyphs">ko03410</text>
<text x="395.80" y="2240.90" font-family="Liberation Sans" font-size="18.40" font-weight="normal" fill="#000" textLength="165.30" lengthAdjust="spacingAndGlyphs">Base excision repair</text>
<text x="102.30" y="2267.80" font-family="Liberation Serif" font-size="18.40" font-weight="normal" fill="#111" textLength="36.80" lengthAdjust="spacingAndGlyphs">class</text>
<g transform="translate(163.00,2264.3) rotate(45)">
<text x="0.00" y="0.00" font-family="Liberation Sans" font-size="14.20" font-weight="normal" fill="#3a3a3a" textLength="116.77" lengthAdjust="spacingAndGlyphs">R-3dpi vs. R-mock</text>
</g>
<g transform="translate(198.80,2264.3) rotate(45)">
<text x="0.00" y="0.00" font-family="Liberation Sans" font-size="14.20" font-weight="normal" fill="#3a3a3a" textLength="123.07" lengthAdjust="spacingAndGlyphs">R-mock vs. S-mock</text>
</g>
<g transform="translate(235.40,2264.3) rotate(45)">
<text x="0.00" y="0.00" font-family="Liberation Sans" font-size="14.20" font-weight="normal" fill="#3a3a3a" textLength="108.91" lengthAdjust="spacingAndGlyphs">R-3dpi vs. S-3dpi</text>
</g>
<g transform="translate(272.00,2264.3) rotate(45)">
<text x="0.00" y="0.00" font-family="Liberation Sans" font-size="14.20" font-weight="normal" fill="#3a3a3a" textLength="115.20" lengthAdjust="spacingAndGlyphs">S-3dpi vs. S-mock</text>
</g>
<rect x="826.9" y="1550.6" width="28.8" height="234.0" fill="url(#gc)" stroke="#111" stroke-width="1.3"/>
<text x="866.80" y="1557.60" font-family="Liberation Serif" font-size="19.60" font-weight="normal" fill="#111" textLength="35.00" lengthAdjust="spacingAndGlyphs">1.00</text>
<text x="866.80" y="1604.38" font-family="Liberation Serif" font-size="19.60" font-weight="normal" fill="#111" textLength="35.00" lengthAdjust="spacingAndGlyphs">0.80</text>
<text x="866.80" y="1651.16" font-family="Liberation Serif" font-size="19.60" font-weight="normal" fill="#111" textLength="35.00" lengthAdjust="spacingAndGlyphs">0.60</text>
<text x="866.80" y="1697.94" font-family="Liberation Serif" font-size="19.60" font-weight="normal" fill="#111" textLength="35.00" lengthAdjust="spacingAndGlyphs">0.40</text>
<text x="866.80" y="1744.72" font-family="Liberation Serif" font-size="19.60" font-weight="normal" fill="#111" textLength="35.00" lengthAdjust="spacingAndGlyphs">0.20</text>
<text x="866.80" y="1791.50" font-family="Liberation Serif" font-size="19.60" font-weight="normal" fill="#111" textLength="35.00" lengthAdjust="spacingAndGlyphs">0.00</text>
<text x="942.60" y="1563.80" font-family="Liberation Serif" font-size="17.50" font-weight="bold" fill="#111" textLength="37.50" lengthAdjust="spacingAndGlyphs">class</text>
<rect x="947.00" y="1574.60" width="27.40" height="29.30" fill="#e3000f" stroke="#111" stroke-width="1"/>
<text x="985.90" y="1592.50" font-family="Liberation Serif" font-size="17.60" font-weight="normal" fill="#111" textLength="169.70" lengthAdjust="spacingAndGlyphs">Amino acid metabolism</text>
<rect x="947.00" y="1603.90" width="27.40" height="27.90" fill="#f4b6bf" stroke="#111" stroke-width="1"/>
<text x="985.30" y="1623.30" font-family="Liberation Serif" font-size="17.60" font-weight="normal" fill="#111" textLength="317.70" lengthAdjust="spacingAndGlyphs">Biosynthesis of other secondary metabolites</text>
<rect x="947.00" y="1631.80" width="27.40" height="29.80" fill="#fcf0f0" stroke="#111" stroke-width="1"/>
<text x="987.20" y="1652.60" font-family="Liberation Serif" font-size="17.60" font-weight="normal" fill="#111" textLength="184.40" lengthAdjust="spacingAndGlyphs">Carbohydrate metabolism</text>
<rect x="947.00" y="1661.60" width="27.40" height="30.10" fill="#cbe6f8" stroke="#111" stroke-width="1"/>
<text x="989.90" y="1679.70" font-family="Liberation Serif" font-size="17.60" font-weight="normal" fill="#111" textLength="136.40" lengthAdjust="spacingAndGlyphs">Energy metabolism</text>
<rect x="947.00" y="1691.70" width="27.40" height="28.70" fill="#f8a860" stroke="#111" stroke-width="1"/>
<text x="989.00" y="1713.00" font-family="Liberation Serif" font-size="17.60" font-weight="normal" fill="#111" textLength="191.00" lengthAdjust="spacingAndGlyphs">Global and overview maps</text>
<rect x="947.00" y="1720.40" width="27.40" height="29.80" fill="#ffff00" stroke="#111" stroke-width="1"/>
<text x="990.70" y="1742.20" font-family="Liberation Serif" font-size="17.60" font-weight="normal" fill="#111" textLength="123.70" lengthAdjust="spacingAndGlyphs">Lipid metabolism</text>
<rect x="947.00" y="1750.20" width="27.40" height="30.10" fill="#a0a0ff" stroke="#111" stroke-width="1"/>
<text x="991.20" y="1770.20" font-family="Liberation Serif" font-size="17.60" font-weight="normal" fill="#111" textLength="272.10" lengthAdjust="spacingAndGlyphs">Metabolism of cofactors and vitamins</text>
<rect x="947.00" y="1780.30" width="27.40" height="29.80" fill="#5050ff" stroke="#111" stroke-width="1"/>
<text x="991.20" y="1800.80" font-family="Liberation Serif" font-size="17.60" font-weight="normal" fill="#111" textLength="236.20" lengthAdjust="spacingAndGlyphs">Metabolism of other amino acids</text>
<rect x="947.00" y="1810.10" width="27.40" height="33.20" fill="#0000ff" stroke="#111" stroke-width="1"/>
<text x="993.80" y="1832.70" font-family="Liberation Serif" font-size="17.60" font-weight="normal" fill="#111" textLength="157.00" lengthAdjust="spacingAndGlyphs">Replication and repair</text>
<rect x="947.0" y="1574.60" width="27.4" height="29.30" fill="none" stroke="#111" stroke-width="2.2"/>
</svg>
</body></html>
